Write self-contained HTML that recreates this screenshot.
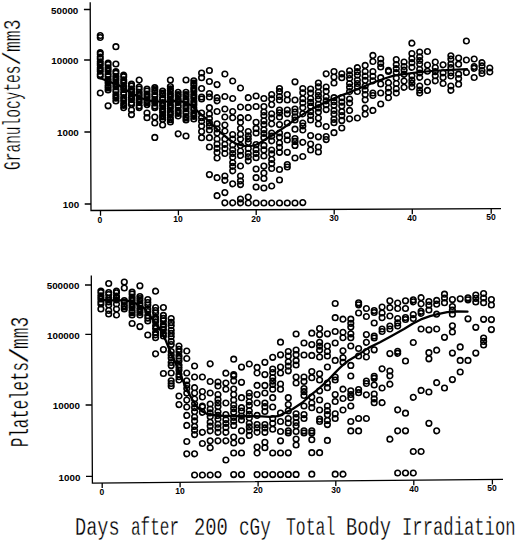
<!DOCTYPE html>
<html><head><meta charset="utf-8"><style>
html,body{margin:0;padding:0;background:#fff;width:520px;height:541px;overflow:hidden}
#c{position:relative;width:520px;height:541px}
svg{position:absolute;left:0;top:0}
.yl{position:absolute;font:bold 9.8px "Liberation Sans",sans-serif;line-height:11px;color:#000;white-space:nowrap}
.xl{position:absolute;width:30px;text-align:center;font:bold 9.8px "Liberation Sans",sans-serif;line-height:10.6px;color:#000;transform:scaleX(0.87)}
.t{position:absolute;font-family:"Liberation Mono",monospace;-webkit-text-stroke:0.3px #fff;paint-order:normal;white-space:nowrap;color:#000;transform-origin:0 0;line-height:1}
</style></head><body><div id="c">
<svg width="520" height="541" viewBox="0 0 520 541">
<path d="M90.2 2.3 L91 210.5 L501 208.6" fill="none" stroke="#000" stroke-width="1.3"/>
<path d="M91.3 275.4 L92.4 483.1 L503 479.4" fill="none" stroke="#000" stroke-width="1.3"/>
<path d="M83.9 9.5 L90.2 9.5 M84.1 60 L90.4 60 M84.4 132 L90.7 132 M84.7 204 L91.0 204 M85.0 285 L91.3 285 M85.3 334.4 L91.6 334.4 M85.6 405 L91.9 405 M86.0 476.3 L92.3 476.3 M100.5 210.5 L100.5 215.7 M178.4 210.1 L178.4 215.3 M256.2 209.7 L256.2 214.9 M334.2 209.4 L334.2 214.6 M412.3 209.0 L412.3 214.2 M491.2 208.6 L491.2 213.8 M102.2 483.0 L102.2 488.0 M180.1 482.3 L180.1 487.3 M258.1 481.6 L258.1 486.6 M335.8 480.9 L335.8 485.9 M413.8 480.2 L413.8 485.2 M492.4 479.5 L492.4 484.5" fill="none" stroke="#000" stroke-width="1.3"/>
<path d="M97.5 35.5a2.8 2.8 0 1 0 5.6 0a2.8 2.8 0 1 0 -5.6 0M97.5 37.5a2.8 2.8 0 1 0 5.6 0a2.8 2.8 0 1 0 -5.6 0M97.5 52.5a2.8 2.8 0 1 0 5.6 0a2.8 2.8 0 1 0 -5.6 0M97.5 54.0a2.8 2.8 0 1 0 5.6 0a2.8 2.8 0 1 0 -5.6 0M97.5 57.1a2.8 2.8 0 1 0 5.6 0a2.8 2.8 0 1 0 -5.6 0M97.5 58.7a2.8 2.8 0 1 0 5.6 0a2.8 2.8 0 1 0 -5.6 0M97.5 61.8a2.8 2.8 0 1 0 5.6 0a2.8 2.8 0 1 0 -5.6 0M97.5 63.4a2.8 2.8 0 1 0 5.6 0a2.8 2.8 0 1 0 -5.6 0M97.5 64.9a2.8 2.8 0 1 0 5.6 0a2.8 2.8 0 1 0 -5.6 0M97.5 68.1a2.8 2.8 0 1 0 5.6 0a2.8 2.8 0 1 0 -5.6 0M97.5 69.7a2.8 2.8 0 1 0 5.6 0a2.8 2.8 0 1 0 -5.6 0M97.5 71.2a2.8 2.8 0 1 0 5.6 0a2.8 2.8 0 1 0 -5.6 0M97.5 74.4a2.8 2.8 0 1 0 5.6 0a2.8 2.8 0 1 0 -5.6 0M97.5 76.0a2.8 2.8 0 1 0 5.6 0a2.8 2.8 0 1 0 -5.6 0M97.5 93.0a2.8 2.8 0 1 0 5.6 0a2.8 2.8 0 1 0 -5.6 0M105.3 63.0a2.8 2.8 0 1 0 5.6 0a2.8 2.8 0 1 0 -5.6 0M105.3 64.6a2.8 2.8 0 1 0 5.6 0a2.8 2.8 0 1 0 -5.6 0M105.3 67.9a2.8 2.8 0 1 0 5.6 0a2.8 2.8 0 1 0 -5.6 0M105.3 69.6a2.8 2.8 0 1 0 5.6 0a2.8 2.8 0 1 0 -5.6 0M105.3 71.3a2.8 2.8 0 1 0 5.6 0a2.8 2.8 0 1 0 -5.6 0M105.3 74.5a2.8 2.8 0 1 0 5.6 0a2.8 2.8 0 1 0 -5.6 0M105.3 76.2a2.8 2.8 0 1 0 5.6 0a2.8 2.8 0 1 0 -5.6 0M105.3 79.5a2.8 2.8 0 1 0 5.6 0a2.8 2.8 0 1 0 -5.6 0M105.3 81.2a2.8 2.8 0 1 0 5.6 0a2.8 2.8 0 1 0 -5.6 0M105.3 82.8a2.8 2.8 0 1 0 5.6 0a2.8 2.8 0 1 0 -5.6 0M105.3 86.1a2.8 2.8 0 1 0 5.6 0a2.8 2.8 0 1 0 -5.6 0M105.3 87.8a2.8 2.8 0 1 0 5.6 0a2.8 2.8 0 1 0 -5.6 0M105.3 90.0a2.8 2.8 0 1 0 5.6 0a2.8 2.8 0 1 0 -5.6 0M105.3 105.8a2.8 2.8 0 1 0 5.6 0a2.8 2.8 0 1 0 -5.6 0M113.1 46.7a2.8 2.8 0 1 0 5.6 0a2.8 2.8 0 1 0 -5.6 0M113.1 64.0a2.8 2.8 0 1 0 5.6 0a2.8 2.8 0 1 0 -5.6 0M113.1 71.5a2.8 2.8 0 1 0 5.6 0a2.8 2.8 0 1 0 -5.6 0M113.1 73.2a2.8 2.8 0 1 0 5.6 0a2.8 2.8 0 1 0 -5.6 0M113.1 76.5a2.8 2.8 0 1 0 5.6 0a2.8 2.8 0 1 0 -5.6 0M113.1 78.2a2.8 2.8 0 1 0 5.6 0a2.8 2.8 0 1 0 -5.6 0M113.1 79.9a2.8 2.8 0 1 0 5.6 0a2.8 2.8 0 1 0 -5.6 0M113.1 83.2a2.8 2.8 0 1 0 5.6 0a2.8 2.8 0 1 0 -5.6 0M113.1 84.9a2.8 2.8 0 1 0 5.6 0a2.8 2.8 0 1 0 -5.6 0M113.1 86.6a2.8 2.8 0 1 0 5.6 0a2.8 2.8 0 1 0 -5.6 0M113.1 89.9a2.8 2.8 0 1 0 5.6 0a2.8 2.8 0 1 0 -5.6 0M113.1 91.6a2.8 2.8 0 1 0 5.6 0a2.8 2.8 0 1 0 -5.6 0M113.1 94.9a2.8 2.8 0 1 0 5.6 0a2.8 2.8 0 1 0 -5.6 0M113.1 96.6a2.8 2.8 0 1 0 5.6 0a2.8 2.8 0 1 0 -5.6 0M113.1 98.2a2.8 2.8 0 1 0 5.6 0a2.8 2.8 0 1 0 -5.6 0M113.1 101.0a2.8 2.8 0 1 0 5.6 0a2.8 2.8 0 1 0 -5.6 0M120.9 75.0a2.8 2.8 0 1 0 5.6 0a2.8 2.8 0 1 0 -5.6 0M120.9 76.7a2.8 2.8 0 1 0 5.6 0a2.8 2.8 0 1 0 -5.6 0M120.9 79.9a2.8 2.8 0 1 0 5.6 0a2.8 2.8 0 1 0 -5.6 0M120.9 81.5a2.8 2.8 0 1 0 5.6 0a2.8 2.8 0 1 0 -5.6 0M120.9 83.1a2.8 2.8 0 1 0 5.6 0a2.8 2.8 0 1 0 -5.6 0M120.9 86.3a2.8 2.8 0 1 0 5.6 0a2.8 2.8 0 1 0 -5.6 0M120.9 87.9a2.8 2.8 0 1 0 5.6 0a2.8 2.8 0 1 0 -5.6 0M120.9 89.5a2.8 2.8 0 1 0 5.6 0a2.8 2.8 0 1 0 -5.6 0M120.9 92.7a2.8 2.8 0 1 0 5.6 0a2.8 2.8 0 1 0 -5.6 0M120.9 94.3a2.8 2.8 0 1 0 5.6 0a2.8 2.8 0 1 0 -5.6 0M120.9 97.5a2.8 2.8 0 1 0 5.6 0a2.8 2.8 0 1 0 -5.6 0M120.9 99.1a2.8 2.8 0 1 0 5.6 0a2.8 2.8 0 1 0 -5.6 0M120.9 100.7a2.8 2.8 0 1 0 5.6 0a2.8 2.8 0 1 0 -5.6 0M120.9 103.9a2.8 2.8 0 1 0 5.6 0a2.8 2.8 0 1 0 -5.6 0M120.9 105.5a2.8 2.8 0 1 0 5.6 0a2.8 2.8 0 1 0 -5.6 0M120.9 107.7a2.8 2.8 0 1 0 5.6 0a2.8 2.8 0 1 0 -5.6 0M128.7 84.0a2.8 2.8 0 1 0 5.6 0a2.8 2.8 0 1 0 -5.6 0M128.7 85.9a2.8 2.8 0 1 0 5.6 0a2.8 2.8 0 1 0 -5.6 0M128.7 89.2a2.8 2.8 0 1 0 5.6 0a2.8 2.8 0 1 0 -5.6 0M128.7 90.9a2.8 2.8 0 1 0 5.6 0a2.8 2.8 0 1 0 -5.6 0M128.7 92.6a2.8 2.8 0 1 0 5.6 0a2.8 2.8 0 1 0 -5.6 0M128.7 95.9a2.8 2.8 0 1 0 5.6 0a2.8 2.8 0 1 0 -5.6 0M128.7 97.6a2.8 2.8 0 1 0 5.6 0a2.8 2.8 0 1 0 -5.6 0M128.7 99.4a2.8 2.8 0 1 0 5.6 0a2.8 2.8 0 1 0 -5.6 0M128.7 102.7a2.8 2.8 0 1 0 5.6 0a2.8 2.8 0 1 0 -5.6 0M128.7 104.6a2.8 2.8 0 1 0 5.6 0a2.8 2.8 0 1 0 -5.6 0M128.7 110.0a2.8 2.8 0 1 0 5.6 0a2.8 2.8 0 1 0 -5.6 0M128.7 114.6a2.8 2.8 0 1 0 5.6 0a2.8 2.8 0 1 0 -5.6 0M136.4 80.0a2.8 2.8 0 1 0 5.6 0a2.8 2.8 0 1 0 -5.6 0M136.4 87.0a2.8 2.8 0 1 0 5.6 0a2.8 2.8 0 1 0 -5.6 0M136.4 89.0a2.8 2.8 0 1 0 5.6 0a2.8 2.8 0 1 0 -5.6 0M136.4 92.3a2.8 2.8 0 1 0 5.6 0a2.8 2.8 0 1 0 -5.6 0M136.4 94.0a2.8 2.8 0 1 0 5.6 0a2.8 2.8 0 1 0 -5.6 0M136.4 95.7a2.8 2.8 0 1 0 5.6 0a2.8 2.8 0 1 0 -5.6 0M136.4 99.1a2.8 2.8 0 1 0 5.6 0a2.8 2.8 0 1 0 -5.6 0M136.4 100.8a2.8 2.8 0 1 0 5.6 0a2.8 2.8 0 1 0 -5.6 0M136.4 102.5a2.8 2.8 0 1 0 5.6 0a2.8 2.8 0 1 0 -5.6 0M136.4 105.8a2.8 2.8 0 1 0 5.6 0a2.8 2.8 0 1 0 -5.6 0M136.4 107.7a2.8 2.8 0 1 0 5.6 0a2.8 2.8 0 1 0 -5.6 0M144.2 89.0a2.8 2.8 0 1 0 5.6 0a2.8 2.8 0 1 0 -5.6 0M144.2 91.0a2.8 2.8 0 1 0 5.6 0a2.8 2.8 0 1 0 -5.6 0M144.2 94.2a2.8 2.8 0 1 0 5.6 0a2.8 2.8 0 1 0 -5.6 0M144.2 95.9a2.8 2.8 0 1 0 5.6 0a2.8 2.8 0 1 0 -5.6 0M144.2 97.5a2.8 2.8 0 1 0 5.6 0a2.8 2.8 0 1 0 -5.6 0M144.2 100.8a2.8 2.8 0 1 0 5.6 0a2.8 2.8 0 1 0 -5.6 0M144.2 102.4a2.8 2.8 0 1 0 5.6 0a2.8 2.8 0 1 0 -5.6 0M144.2 104.6a2.8 2.8 0 1 0 5.6 0a2.8 2.8 0 1 0 -5.6 0M144.2 113.0a2.8 2.8 0 1 0 5.6 0a2.8 2.8 0 1 0 -5.6 0M144.2 117.7a2.8 2.8 0 1 0 5.6 0a2.8 2.8 0 1 0 -5.6 0M152.0 87.7a2.8 2.8 0 1 0 5.6 0a2.8 2.8 0 1 0 -5.6 0M152.0 89.7a2.8 2.8 0 1 0 5.6 0a2.8 2.8 0 1 0 -5.6 0M152.0 91.4a2.8 2.8 0 1 0 5.6 0a2.8 2.8 0 1 0 -5.6 0M152.0 94.6a2.8 2.8 0 1 0 5.6 0a2.8 2.8 0 1 0 -5.6 0M152.0 96.3a2.8 2.8 0 1 0 5.6 0a2.8 2.8 0 1 0 -5.6 0M152.0 99.5a2.8 2.8 0 1 0 5.6 0a2.8 2.8 0 1 0 -5.6 0M152.0 101.2a2.8 2.8 0 1 0 5.6 0a2.8 2.8 0 1 0 -5.6 0M152.0 102.8a2.8 2.8 0 1 0 5.6 0a2.8 2.8 0 1 0 -5.6 0M152.0 106.0a2.8 2.8 0 1 0 5.6 0a2.8 2.8 0 1 0 -5.6 0M152.0 107.7a2.8 2.8 0 1 0 5.6 0a2.8 2.8 0 1 0 -5.6 0M152.0 117.0a2.8 2.8 0 1 0 5.6 0a2.8 2.8 0 1 0 -5.6 0M152.0 123.0a2.8 2.8 0 1 0 5.6 0a2.8 2.8 0 1 0 -5.6 0M152.0 137.4a2.8 2.8 0 1 0 5.6 0a2.8 2.8 0 1 0 -5.6 0M159.8 91.0a2.8 2.8 0 1 0 5.6 0a2.8 2.8 0 1 0 -5.6 0M159.8 93.1a2.8 2.8 0 1 0 5.6 0a2.8 2.8 0 1 0 -5.6 0M159.8 94.7a2.8 2.8 0 1 0 5.6 0a2.8 2.8 0 1 0 -5.6 0M159.8 97.8a2.8 2.8 0 1 0 5.6 0a2.8 2.8 0 1 0 -5.6 0M159.8 99.4a2.8 2.8 0 1 0 5.6 0a2.8 2.8 0 1 0 -5.6 0M159.8 102.6a2.8 2.8 0 1 0 5.6 0a2.8 2.8 0 1 0 -5.6 0M159.8 104.2a2.8 2.8 0 1 0 5.6 0a2.8 2.8 0 1 0 -5.6 0M159.8 105.8a2.8 2.8 0 1 0 5.6 0a2.8 2.8 0 1 0 -5.6 0M159.8 109.0a2.8 2.8 0 1 0 5.6 0a2.8 2.8 0 1 0 -5.6 0M159.8 110.6a2.8 2.8 0 1 0 5.6 0a2.8 2.8 0 1 0 -5.6 0M159.8 112.2a2.8 2.8 0 1 0 5.6 0a2.8 2.8 0 1 0 -5.6 0M159.8 115.4a2.8 2.8 0 1 0 5.6 0a2.8 2.8 0 1 0 -5.6 0M159.8 117.0a2.8 2.8 0 1 0 5.6 0a2.8 2.8 0 1 0 -5.6 0M159.8 119.2a2.8 2.8 0 1 0 5.6 0a2.8 2.8 0 1 0 -5.6 0M159.8 125.0a2.8 2.8 0 1 0 5.6 0a2.8 2.8 0 1 0 -5.6 0M167.6 80.0a2.8 2.8 0 1 0 5.6 0a2.8 2.8 0 1 0 -5.6 0M167.6 86.6a2.8 2.8 0 1 0 5.6 0a2.8 2.8 0 1 0 -5.6 0M167.6 88.8a2.8 2.8 0 1 0 5.6 0a2.8 2.8 0 1 0 -5.6 0M167.6 90.4a2.8 2.8 0 1 0 5.6 0a2.8 2.8 0 1 0 -5.6 0M167.6 93.6a2.8 2.8 0 1 0 5.6 0a2.8 2.8 0 1 0 -5.6 0M167.6 95.3a2.8 2.8 0 1 0 5.6 0a2.8 2.8 0 1 0 -5.6 0M167.6 96.9a2.8 2.8 0 1 0 5.6 0a2.8 2.8 0 1 0 -5.6 0M167.6 100.1a2.8 2.8 0 1 0 5.6 0a2.8 2.8 0 1 0 -5.6 0M167.6 101.8a2.8 2.8 0 1 0 5.6 0a2.8 2.8 0 1 0 -5.6 0M167.6 105.0a2.8 2.8 0 1 0 5.6 0a2.8 2.8 0 1 0 -5.6 0M167.6 106.7a2.8 2.8 0 1 0 5.6 0a2.8 2.8 0 1 0 -5.6 0M167.6 108.3a2.8 2.8 0 1 0 5.6 0a2.8 2.8 0 1 0 -5.6 0M167.6 111.5a2.8 2.8 0 1 0 5.6 0a2.8 2.8 0 1 0 -5.6 0M167.6 113.2a2.8 2.8 0 1 0 5.6 0a2.8 2.8 0 1 0 -5.6 0M167.6 114.8a2.8 2.8 0 1 0 5.6 0a2.8 2.8 0 1 0 -5.6 0M167.6 118.0a2.8 2.8 0 1 0 5.6 0a2.8 2.8 0 1 0 -5.6 0M167.6 119.7a2.8 2.8 0 1 0 5.6 0a2.8 2.8 0 1 0 -5.6 0M167.6 122.0a2.8 2.8 0 1 0 5.6 0a2.8 2.8 0 1 0 -5.6 0M175.4 92.3a2.8 2.8 0 1 0 5.6 0a2.8 2.8 0 1 0 -5.6 0M175.4 94.5a2.8 2.8 0 1 0 5.6 0a2.8 2.8 0 1 0 -5.6 0M175.4 96.1a2.8 2.8 0 1 0 5.6 0a2.8 2.8 0 1 0 -5.6 0M175.4 99.2a2.8 2.8 0 1 0 5.6 0a2.8 2.8 0 1 0 -5.6 0M175.4 100.8a2.8 2.8 0 1 0 5.6 0a2.8 2.8 0 1 0 -5.6 0M175.4 102.4a2.8 2.8 0 1 0 5.6 0a2.8 2.8 0 1 0 -5.6 0M175.4 105.6a2.8 2.8 0 1 0 5.6 0a2.8 2.8 0 1 0 -5.6 0M175.4 107.1a2.8 2.8 0 1 0 5.6 0a2.8 2.8 0 1 0 -5.6 0M175.4 110.3a2.8 2.8 0 1 0 5.6 0a2.8 2.8 0 1 0 -5.6 0M175.4 111.9a2.8 2.8 0 1 0 5.6 0a2.8 2.8 0 1 0 -5.6 0M175.4 113.5a2.8 2.8 0 1 0 5.6 0a2.8 2.8 0 1 0 -5.6 0M175.4 116.0a2.8 2.8 0 1 0 5.6 0a2.8 2.8 0 1 0 -5.6 0M175.4 133.8a2.8 2.8 0 1 0 5.6 0a2.8 2.8 0 1 0 -5.6 0M183.2 80.0a2.8 2.8 0 1 0 5.6 0a2.8 2.8 0 1 0 -5.6 0M183.2 92.3a2.8 2.8 0 1 0 5.6 0a2.8 2.8 0 1 0 -5.6 0M183.2 94.5a2.8 2.8 0 1 0 5.6 0a2.8 2.8 0 1 0 -5.6 0M183.2 96.1a2.8 2.8 0 1 0 5.6 0a2.8 2.8 0 1 0 -5.6 0M183.2 99.2a2.8 2.8 0 1 0 5.6 0a2.8 2.8 0 1 0 -5.6 0M183.2 100.8a2.8 2.8 0 1 0 5.6 0a2.8 2.8 0 1 0 -5.6 0M183.2 102.3a2.8 2.8 0 1 0 5.6 0a2.8 2.8 0 1 0 -5.6 0M183.2 105.5a2.8 2.8 0 1 0 5.6 0a2.8 2.8 0 1 0 -5.6 0M183.2 107.0a2.8 2.8 0 1 0 5.6 0a2.8 2.8 0 1 0 -5.6 0M183.2 108.6a2.8 2.8 0 1 0 5.6 0a2.8 2.8 0 1 0 -5.6 0M183.2 111.7a2.8 2.8 0 1 0 5.6 0a2.8 2.8 0 1 0 -5.6 0M183.2 113.3a2.8 2.8 0 1 0 5.6 0a2.8 2.8 0 1 0 -5.6 0M183.2 116.5a2.8 2.8 0 1 0 5.6 0a2.8 2.8 0 1 0 -5.6 0M183.2 118.0a2.8 2.8 0 1 0 5.6 0a2.8 2.8 0 1 0 -5.6 0M183.2 120.0a2.8 2.8 0 1 0 5.6 0a2.8 2.8 0 1 0 -5.6 0M183.2 136.0a2.8 2.8 0 1 0 5.6 0a2.8 2.8 0 1 0 -5.6 0M191.0 80.8a2.8 2.8 0 1 0 5.6 0a2.8 2.8 0 1 0 -5.6 0M191.0 83.2a2.8 2.8 0 1 0 5.6 0a2.8 2.8 0 1 0 -5.6 0M191.0 84.9a2.8 2.8 0 1 0 5.6 0a2.8 2.8 0 1 0 -5.6 0M191.0 88.2a2.8 2.8 0 1 0 5.6 0a2.8 2.8 0 1 0 -5.6 0M191.0 89.8a2.8 2.8 0 1 0 5.6 0a2.8 2.8 0 1 0 -5.6 0M191.0 91.5a2.8 2.8 0 1 0 5.6 0a2.8 2.8 0 1 0 -5.6 0M191.0 94.8a2.8 2.8 0 1 0 5.6 0a2.8 2.8 0 1 0 -5.6 0M191.0 96.4a2.8 2.8 0 1 0 5.6 0a2.8 2.8 0 1 0 -5.6 0M191.0 98.1a2.8 2.8 0 1 0 5.6 0a2.8 2.8 0 1 0 -5.6 0M191.0 101.4a2.8 2.8 0 1 0 5.6 0a2.8 2.8 0 1 0 -5.6 0M191.0 103.0a2.8 2.8 0 1 0 5.6 0a2.8 2.8 0 1 0 -5.6 0M191.0 104.7a2.8 2.8 0 1 0 5.6 0a2.8 2.8 0 1 0 -5.6 0M191.0 108.0a2.8 2.8 0 1 0 5.6 0a2.8 2.8 0 1 0 -5.6 0M191.0 109.7a2.8 2.8 0 1 0 5.6 0a2.8 2.8 0 1 0 -5.6 0M191.0 112.9a2.8 2.8 0 1 0 5.6 0a2.8 2.8 0 1 0 -5.6 0M191.0 114.6a2.8 2.8 0 1 0 5.6 0a2.8 2.8 0 1 0 -5.6 0M191.0 116.3a2.8 2.8 0 1 0 5.6 0a2.8 2.8 0 1 0 -5.6 0M191.0 119.0a2.8 2.8 0 1 0 5.6 0a2.8 2.8 0 1 0 -5.6 0M198.8 73.0a2.8 2.8 0 1 0 5.6 0a2.8 2.8 0 1 0 -5.6 0M198.8 77.7a2.8 2.8 0 1 0 5.6 0a2.8 2.8 0 1 0 -5.6 0M198.8 88.5a2.8 2.8 0 1 0 5.6 0a2.8 2.8 0 1 0 -5.6 0M198.8 97.0a2.8 2.8 0 1 0 5.6 0a2.8 2.8 0 1 0 -5.6 0M198.8 99.0a2.8 2.8 0 1 0 5.6 0a2.8 2.8 0 1 0 -5.6 0M198.8 113.0a2.8 2.8 0 1 0 5.6 0a2.8 2.8 0 1 0 -5.6 0M198.8 117.6a2.8 2.8 0 1 0 5.6 0a2.8 2.8 0 1 0 -5.6 0M198.8 121.3a2.8 2.8 0 1 0 5.6 0a2.8 2.8 0 1 0 -5.6 0M198.8 126.0a2.8 2.8 0 1 0 5.6 0a2.8 2.8 0 1 0 -5.6 0M198.8 131.5a2.8 2.8 0 1 0 5.6 0a2.8 2.8 0 1 0 -5.6 0M198.8 137.7a2.8 2.8 0 1 0 5.6 0a2.8 2.8 0 1 0 -5.6 0M206.6 70.5a2.8 2.8 0 1 0 5.6 0a2.8 2.8 0 1 0 -5.6 0M206.6 81.5a2.8 2.8 0 1 0 5.6 0a2.8 2.8 0 1 0 -5.6 0M206.6 93.5a2.8 2.8 0 1 0 5.6 0a2.8 2.8 0 1 0 -5.6 0M206.6 97.0a2.8 2.8 0 1 0 5.6 0a2.8 2.8 0 1 0 -5.6 0M206.6 107.7a2.8 2.8 0 1 0 5.6 0a2.8 2.8 0 1 0 -5.6 0M206.6 114.0a2.8 2.8 0 1 0 5.6 0a2.8 2.8 0 1 0 -5.6 0M206.6 118.5a2.8 2.8 0 1 0 5.6 0a2.8 2.8 0 1 0 -5.6 0M206.6 122.6a2.8 2.8 0 1 0 5.6 0a2.8 2.8 0 1 0 -5.6 0M206.6 125.9a2.8 2.8 0 1 0 5.6 0a2.8 2.8 0 1 0 -5.6 0M206.6 130.0a2.8 2.8 0 1 0 5.6 0a2.8 2.8 0 1 0 -5.6 0M206.6 137.7a2.8 2.8 0 1 0 5.6 0a2.8 2.8 0 1 0 -5.6 0M206.6 147.0a2.8 2.8 0 1 0 5.6 0a2.8 2.8 0 1 0 -5.6 0M206.6 174.6a2.8 2.8 0 1 0 5.6 0a2.8 2.8 0 1 0 -5.6 0M214.3 84.6a2.8 2.8 0 1 0 5.6 0a2.8 2.8 0 1 0 -5.6 0M214.3 97.7a2.8 2.8 0 1 0 5.6 0a2.8 2.8 0 1 0 -5.6 0M214.3 100.8a2.8 2.8 0 1 0 5.6 0a2.8 2.8 0 1 0 -5.6 0M214.3 111.5a2.8 2.8 0 1 0 5.6 0a2.8 2.8 0 1 0 -5.6 0M214.3 123.8a2.8 2.8 0 1 0 5.6 0a2.8 2.8 0 1 0 -5.6 0M214.3 128.8a2.8 2.8 0 1 0 5.6 0a2.8 2.8 0 1 0 -5.6 0M214.3 133.0a2.8 2.8 0 1 0 5.6 0a2.8 2.8 0 1 0 -5.6 0M214.3 139.0a2.8 2.8 0 1 0 5.6 0a2.8 2.8 0 1 0 -5.6 0M214.3 144.1a2.8 2.8 0 1 0 5.6 0a2.8 2.8 0 1 0 -5.6 0M214.3 148.3a2.8 2.8 0 1 0 5.6 0a2.8 2.8 0 1 0 -5.6 0M214.3 152.5a2.8 2.8 0 1 0 5.6 0a2.8 2.8 0 1 0 -5.6 0M214.3 158.0a2.8 2.8 0 1 0 5.6 0a2.8 2.8 0 1 0 -5.6 0M214.3 177.7a2.8 2.8 0 1 0 5.6 0a2.8 2.8 0 1 0 -5.6 0M214.3 195.7a2.8 2.8 0 1 0 5.6 0a2.8 2.8 0 1 0 -5.6 0M222.1 74.0a2.8 2.8 0 1 0 5.6 0a2.8 2.8 0 1 0 -5.6 0M222.1 96.5a2.8 2.8 0 1 0 5.6 0a2.8 2.8 0 1 0 -5.6 0M222.1 109.0a2.8 2.8 0 1 0 5.6 0a2.8 2.8 0 1 0 -5.6 0M222.1 117.0a2.8 2.8 0 1 0 5.6 0a2.8 2.8 0 1 0 -5.6 0M222.1 125.0a2.8 2.8 0 1 0 5.6 0a2.8 2.8 0 1 0 -5.6 0M222.1 131.0a2.8 2.8 0 1 0 5.6 0a2.8 2.8 0 1 0 -5.6 0M222.1 139.0a2.8 2.8 0 1 0 5.6 0a2.8 2.8 0 1 0 -5.6 0M222.1 144.3a2.8 2.8 0 1 0 5.6 0a2.8 2.8 0 1 0 -5.6 0M222.1 148.5a2.8 2.8 0 1 0 5.6 0a2.8 2.8 0 1 0 -5.6 0M222.1 153.5a2.8 2.8 0 1 0 5.6 0a2.8 2.8 0 1 0 -5.6 0M222.1 176.0a2.8 2.8 0 1 0 5.6 0a2.8 2.8 0 1 0 -5.6 0M222.1 180.3a2.8 2.8 0 1 0 5.6 0a2.8 2.8 0 1 0 -5.6 0M222.1 192.6a2.8 2.8 0 1 0 5.6 0a2.8 2.8 0 1 0 -5.6 0M222.1 202.8a2.8 2.8 0 1 0 5.6 0a2.8 2.8 0 1 0 -5.6 0M229.9 81.0a2.8 2.8 0 1 0 5.6 0a2.8 2.8 0 1 0 -5.6 0M229.9 98.5a2.8 2.8 0 1 0 5.6 0a2.8 2.8 0 1 0 -5.6 0M229.9 111.5a2.8 2.8 0 1 0 5.6 0a2.8 2.8 0 1 0 -5.6 0M229.9 117.7a2.8 2.8 0 1 0 5.6 0a2.8 2.8 0 1 0 -5.6 0M229.9 134.6a2.8 2.8 0 1 0 5.6 0a2.8 2.8 0 1 0 -5.6 0M229.9 139.0a2.8 2.8 0 1 0 5.6 0a2.8 2.8 0 1 0 -5.6 0M229.9 145.0a2.8 2.8 0 1 0 5.6 0a2.8 2.8 0 1 0 -5.6 0M229.9 149.8a2.8 2.8 0 1 0 5.6 0a2.8 2.8 0 1 0 -5.6 0M229.9 153.5a2.8 2.8 0 1 0 5.6 0a2.8 2.8 0 1 0 -5.6 0M229.9 157.3a2.8 2.8 0 1 0 5.6 0a2.8 2.8 0 1 0 -5.6 0M229.9 162.6a2.8 2.8 0 1 0 5.6 0a2.8 2.8 0 1 0 -5.6 0M229.9 166.3a2.8 2.8 0 1 0 5.6 0a2.8 2.8 0 1 0 -5.6 0M229.9 170.8a2.8 2.8 0 1 0 5.6 0a2.8 2.8 0 1 0 -5.6 0M229.9 183.8a2.8 2.8 0 1 0 5.6 0a2.8 2.8 0 1 0 -5.6 0M229.9 202.8a2.8 2.8 0 1 0 5.6 0a2.8 2.8 0 1 0 -5.6 0M237.7 88.0a2.8 2.8 0 1 0 5.6 0a2.8 2.8 0 1 0 -5.6 0M237.7 107.0a2.8 2.8 0 1 0 5.6 0a2.8 2.8 0 1 0 -5.6 0M237.7 117.7a2.8 2.8 0 1 0 5.6 0a2.8 2.8 0 1 0 -5.6 0M237.7 122.3a2.8 2.8 0 1 0 5.6 0a2.8 2.8 0 1 0 -5.6 0M237.7 128.5a2.8 2.8 0 1 0 5.6 0a2.8 2.8 0 1 0 -5.6 0M237.7 134.3a2.8 2.8 0 1 0 5.6 0a2.8 2.8 0 1 0 -5.6 0M237.7 139.0a2.8 2.8 0 1 0 5.6 0a2.8 2.8 0 1 0 -5.6 0M237.7 145.4a2.8 2.8 0 1 0 5.6 0a2.8 2.8 0 1 0 -5.6 0M237.7 151.0a2.8 2.8 0 1 0 5.6 0a2.8 2.8 0 1 0 -5.6 0M237.7 155.4a2.8 2.8 0 1 0 5.6 0a2.8 2.8 0 1 0 -5.6 0M237.7 166.0a2.8 2.8 0 1 0 5.6 0a2.8 2.8 0 1 0 -5.6 0M237.7 176.0a2.8 2.8 0 1 0 5.6 0a2.8 2.8 0 1 0 -5.6 0M237.7 180.9a2.8 2.8 0 1 0 5.6 0a2.8 2.8 0 1 0 -5.6 0M237.7 184.6a2.8 2.8 0 1 0 5.6 0a2.8 2.8 0 1 0 -5.6 0M237.7 199.0a2.8 2.8 0 1 0 5.6 0a2.8 2.8 0 1 0 -5.6 0M237.7 202.8a2.8 2.8 0 1 0 5.6 0a2.8 2.8 0 1 0 -5.6 0M245.5 97.7a2.8 2.8 0 1 0 5.6 0a2.8 2.8 0 1 0 -5.6 0M245.5 107.4a2.8 2.8 0 1 0 5.6 0a2.8 2.8 0 1 0 -5.6 0M245.5 117.7a2.8 2.8 0 1 0 5.6 0a2.8 2.8 0 1 0 -5.6 0M245.5 131.5a2.8 2.8 0 1 0 5.6 0a2.8 2.8 0 1 0 -5.6 0M245.5 135.8a2.8 2.8 0 1 0 5.6 0a2.8 2.8 0 1 0 -5.6 0M245.5 138.8a2.8 2.8 0 1 0 5.6 0a2.8 2.8 0 1 0 -5.6 0M245.5 142.3a2.8 2.8 0 1 0 5.6 0a2.8 2.8 0 1 0 -5.6 0M245.5 148.5a2.8 2.8 0 1 0 5.6 0a2.8 2.8 0 1 0 -5.6 0M245.5 153.3a2.8 2.8 0 1 0 5.6 0a2.8 2.8 0 1 0 -5.6 0M245.5 156.8a2.8 2.8 0 1 0 5.6 0a2.8 2.8 0 1 0 -5.6 0M245.5 160.8a2.8 2.8 0 1 0 5.6 0a2.8 2.8 0 1 0 -5.6 0M245.5 197.0a2.8 2.8 0 1 0 5.6 0a2.8 2.8 0 1 0 -5.6 0M245.5 203.0a2.8 2.8 0 1 0 5.6 0a2.8 2.8 0 1 0 -5.6 0M253.3 96.0a2.8 2.8 0 1 0 5.6 0a2.8 2.8 0 1 0 -5.6 0M253.3 106.5a2.8 2.8 0 1 0 5.6 0a2.8 2.8 0 1 0 -5.6 0M253.3 122.3a2.8 2.8 0 1 0 5.6 0a2.8 2.8 0 1 0 -5.6 0M253.3 128.4a2.8 2.8 0 1 0 5.6 0a2.8 2.8 0 1 0 -5.6 0M253.3 133.0a2.8 2.8 0 1 0 5.6 0a2.8 2.8 0 1 0 -5.6 0M253.3 144.6a2.8 2.8 0 1 0 5.6 0a2.8 2.8 0 1 0 -5.6 0M253.3 149.7a2.8 2.8 0 1 0 5.6 0a2.8 2.8 0 1 0 -5.6 0M253.3 153.5a2.8 2.8 0 1 0 5.6 0a2.8 2.8 0 1 0 -5.6 0M253.3 157.7a2.8 2.8 0 1 0 5.6 0a2.8 2.8 0 1 0 -5.6 0M253.3 169.0a2.8 2.8 0 1 0 5.6 0a2.8 2.8 0 1 0 -5.6 0M253.3 177.7a2.8 2.8 0 1 0 5.6 0a2.8 2.8 0 1 0 -5.6 0M253.3 187.0a2.8 2.8 0 1 0 5.6 0a2.8 2.8 0 1 0 -5.6 0M253.3 203.0a2.8 2.8 0 1 0 5.6 0a2.8 2.8 0 1 0 -5.6 0M261.1 98.5a2.8 2.8 0 1 0 5.6 0a2.8 2.8 0 1 0 -5.6 0M261.1 106.5a2.8 2.8 0 1 0 5.6 0a2.8 2.8 0 1 0 -5.6 0M261.1 112.0a2.8 2.8 0 1 0 5.6 0a2.8 2.8 0 1 0 -5.6 0M261.1 115.5a2.8 2.8 0 1 0 5.6 0a2.8 2.8 0 1 0 -5.6 0M261.1 120.8a2.8 2.8 0 1 0 5.6 0a2.8 2.8 0 1 0 -5.6 0M261.1 124.5a2.8 2.8 0 1 0 5.6 0a2.8 2.8 0 1 0 -5.6 0M261.1 129.8a2.8 2.8 0 1 0 5.6 0a2.8 2.8 0 1 0 -5.6 0M261.1 133.5a2.8 2.8 0 1 0 5.6 0a2.8 2.8 0 1 0 -5.6 0M261.1 137.7a2.8 2.8 0 1 0 5.6 0a2.8 2.8 0 1 0 -5.6 0M261.1 145.4a2.8 2.8 0 1 0 5.6 0a2.8 2.8 0 1 0 -5.6 0M261.1 149.9a2.8 2.8 0 1 0 5.6 0a2.8 2.8 0 1 0 -5.6 0M261.1 156.0a2.8 2.8 0 1 0 5.6 0a2.8 2.8 0 1 0 -5.6 0M261.1 166.0a2.8 2.8 0 1 0 5.6 0a2.8 2.8 0 1 0 -5.6 0M261.1 173.0a2.8 2.8 0 1 0 5.6 0a2.8 2.8 0 1 0 -5.6 0M261.1 178.5a2.8 2.8 0 1 0 5.6 0a2.8 2.8 0 1 0 -5.6 0M261.1 188.0a2.8 2.8 0 1 0 5.6 0a2.8 2.8 0 1 0 -5.6 0M261.1 203.0a2.8 2.8 0 1 0 5.6 0a2.8 2.8 0 1 0 -5.6 0M268.9 94.6a2.8 2.8 0 1 0 5.6 0a2.8 2.8 0 1 0 -5.6 0M268.9 98.9a2.8 2.8 0 1 0 5.6 0a2.8 2.8 0 1 0 -5.6 0M268.9 104.6a2.8 2.8 0 1 0 5.6 0a2.8 2.8 0 1 0 -5.6 0M268.9 113.8a2.8 2.8 0 1 0 5.6 0a2.8 2.8 0 1 0 -5.6 0M268.9 118.1a2.8 2.8 0 1 0 5.6 0a2.8 2.8 0 1 0 -5.6 0M268.9 123.8a2.8 2.8 0 1 0 5.6 0a2.8 2.8 0 1 0 -5.6 0M268.9 133.0a2.8 2.8 0 1 0 5.6 0a2.8 2.8 0 1 0 -5.6 0M268.9 136.2a2.8 2.8 0 1 0 5.6 0a2.8 2.8 0 1 0 -5.6 0M268.9 140.8a2.8 2.8 0 1 0 5.6 0a2.8 2.8 0 1 0 -5.6 0M268.9 150.0a2.8 2.8 0 1 0 5.6 0a2.8 2.8 0 1 0 -5.6 0M268.9 153.9a2.8 2.8 0 1 0 5.6 0a2.8 2.8 0 1 0 -5.6 0M268.9 159.5a2.8 2.8 0 1 0 5.6 0a2.8 2.8 0 1 0 -5.6 0M268.9 163.6a2.8 2.8 0 1 0 5.6 0a2.8 2.8 0 1 0 -5.6 0M268.9 168.5a2.8 2.8 0 1 0 5.6 0a2.8 2.8 0 1 0 -5.6 0M268.9 186.0a2.8 2.8 0 1 0 5.6 0a2.8 2.8 0 1 0 -5.6 0M268.9 203.0a2.8 2.8 0 1 0 5.6 0a2.8 2.8 0 1 0 -5.6 0M276.7 88.5a2.8 2.8 0 1 0 5.6 0a2.8 2.8 0 1 0 -5.6 0M276.7 91.7a2.8 2.8 0 1 0 5.6 0a2.8 2.8 0 1 0 -5.6 0M276.7 96.5a2.8 2.8 0 1 0 5.6 0a2.8 2.8 0 1 0 -5.6 0M276.7 100.0a2.8 2.8 0 1 0 5.6 0a2.8 2.8 0 1 0 -5.6 0M276.7 110.0a2.8 2.8 0 1 0 5.6 0a2.8 2.8 0 1 0 -5.6 0M276.7 112.8a2.8 2.8 0 1 0 5.6 0a2.8 2.8 0 1 0 -5.6 0M276.7 117.0a2.8 2.8 0 1 0 5.6 0a2.8 2.8 0 1 0 -5.6 0M276.7 124.6a2.8 2.8 0 1 0 5.6 0a2.8 2.8 0 1 0 -5.6 0M276.7 133.0a2.8 2.8 0 1 0 5.6 0a2.8 2.8 0 1 0 -5.6 0M276.7 137.2a2.8 2.8 0 1 0 5.6 0a2.8 2.8 0 1 0 -5.6 0M276.7 143.0a2.8 2.8 0 1 0 5.6 0a2.8 2.8 0 1 0 -5.6 0M276.7 147.3a2.8 2.8 0 1 0 5.6 0a2.8 2.8 0 1 0 -5.6 0M276.7 152.3a2.8 2.8 0 1 0 5.6 0a2.8 2.8 0 1 0 -5.6 0M276.7 169.5a2.8 2.8 0 1 0 5.6 0a2.8 2.8 0 1 0 -5.6 0M276.7 180.0a2.8 2.8 0 1 0 5.6 0a2.8 2.8 0 1 0 -5.6 0M276.7 203.0a2.8 2.8 0 1 0 5.6 0a2.8 2.8 0 1 0 -5.6 0M284.5 94.6a2.8 2.8 0 1 0 5.6 0a2.8 2.8 0 1 0 -5.6 0M284.5 100.0a2.8 2.8 0 1 0 5.6 0a2.8 2.8 0 1 0 -5.6 0M284.5 110.0a2.8 2.8 0 1 0 5.6 0a2.8 2.8 0 1 0 -5.6 0M284.5 113.8a2.8 2.8 0 1 0 5.6 0a2.8 2.8 0 1 0 -5.6 0M284.5 123.0a2.8 2.8 0 1 0 5.6 0a2.8 2.8 0 1 0 -5.6 0M284.5 135.4a2.8 2.8 0 1 0 5.6 0a2.8 2.8 0 1 0 -5.6 0M284.5 140.0a2.8 2.8 0 1 0 5.6 0a2.8 2.8 0 1 0 -5.6 0M284.5 152.3a2.8 2.8 0 1 0 5.6 0a2.8 2.8 0 1 0 -5.6 0M284.5 164.5a2.8 2.8 0 1 0 5.6 0a2.8 2.8 0 1 0 -5.6 0M284.5 167.0a2.8 2.8 0 1 0 5.6 0a2.8 2.8 0 1 0 -5.6 0M284.5 203.0a2.8 2.8 0 1 0 5.6 0a2.8 2.8 0 1 0 -5.6 0M292.2 81.8a2.8 2.8 0 1 0 5.6 0a2.8 2.8 0 1 0 -5.6 0M292.2 100.0a2.8 2.8 0 1 0 5.6 0a2.8 2.8 0 1 0 -5.6 0M292.2 109.0a2.8 2.8 0 1 0 5.6 0a2.8 2.8 0 1 0 -5.6 0M292.2 112.1a2.8 2.8 0 1 0 5.6 0a2.8 2.8 0 1 0 -5.6 0M292.2 116.8a2.8 2.8 0 1 0 5.6 0a2.8 2.8 0 1 0 -5.6 0M292.2 120.0a2.8 2.8 0 1 0 5.6 0a2.8 2.8 0 1 0 -5.6 0M292.2 129.2a2.8 2.8 0 1 0 5.6 0a2.8 2.8 0 1 0 -5.6 0M292.2 138.5a2.8 2.8 0 1 0 5.6 0a2.8 2.8 0 1 0 -5.6 0M292.2 141.4a2.8 2.8 0 1 0 5.6 0a2.8 2.8 0 1 0 -5.6 0M292.2 145.4a2.8 2.8 0 1 0 5.6 0a2.8 2.8 0 1 0 -5.6 0M292.2 158.0a2.8 2.8 0 1 0 5.6 0a2.8 2.8 0 1 0 -5.6 0M292.2 203.0a2.8 2.8 0 1 0 5.6 0a2.8 2.8 0 1 0 -5.6 0M300.0 88.5a2.8 2.8 0 1 0 5.6 0a2.8 2.8 0 1 0 -5.6 0M300.0 92.8a2.8 2.8 0 1 0 5.6 0a2.8 2.8 0 1 0 -5.6 0M300.0 98.7a2.8 2.8 0 1 0 5.6 0a2.8 2.8 0 1 0 -5.6 0M300.0 102.9a2.8 2.8 0 1 0 5.6 0a2.8 2.8 0 1 0 -5.6 0M300.0 107.7a2.8 2.8 0 1 0 5.6 0a2.8 2.8 0 1 0 -5.6 0M300.0 113.8a2.8 2.8 0 1 0 5.6 0a2.8 2.8 0 1 0 -5.6 0M300.0 123.0a2.8 2.8 0 1 0 5.6 0a2.8 2.8 0 1 0 -5.6 0M300.0 126.0a2.8 2.8 0 1 0 5.6 0a2.8 2.8 0 1 0 -5.6 0M300.0 130.0a2.8 2.8 0 1 0 5.6 0a2.8 2.8 0 1 0 -5.6 0M300.0 142.3a2.8 2.8 0 1 0 5.6 0a2.8 2.8 0 1 0 -5.6 0M300.0 156.5a2.8 2.8 0 1 0 5.6 0a2.8 2.8 0 1 0 -5.6 0M300.0 202.6a2.8 2.8 0 1 0 5.6 0a2.8 2.8 0 1 0 -5.6 0M307.8 89.0a2.8 2.8 0 1 0 5.6 0a2.8 2.8 0 1 0 -5.6 0M307.8 93.1a2.8 2.8 0 1 0 5.6 0a2.8 2.8 0 1 0 -5.6 0M307.8 98.5a2.8 2.8 0 1 0 5.6 0a2.8 2.8 0 1 0 -5.6 0M307.8 102.4a2.8 2.8 0 1 0 5.6 0a2.8 2.8 0 1 0 -5.6 0M307.8 106.2a2.8 2.8 0 1 0 5.6 0a2.8 2.8 0 1 0 -5.6 0M307.8 111.7a2.8 2.8 0 1 0 5.6 0a2.8 2.8 0 1 0 -5.6 0M307.8 115.5a2.8 2.8 0 1 0 5.6 0a2.8 2.8 0 1 0 -5.6 0M307.8 120.0a2.8 2.8 0 1 0 5.6 0a2.8 2.8 0 1 0 -5.6 0M307.8 135.6a2.8 2.8 0 1 0 5.6 0a2.8 2.8 0 1 0 -5.6 0M307.8 144.0a2.8 2.8 0 1 0 5.6 0a2.8 2.8 0 1 0 -5.6 0M307.8 150.0a2.8 2.8 0 1 0 5.6 0a2.8 2.8 0 1 0 -5.6 0M315.6 83.0a2.8 2.8 0 1 0 5.6 0a2.8 2.8 0 1 0 -5.6 0M315.6 86.8a2.8 2.8 0 1 0 5.6 0a2.8 2.8 0 1 0 -5.6 0M315.6 92.0a2.8 2.8 0 1 0 5.6 0a2.8 2.8 0 1 0 -5.6 0M315.6 95.6a2.8 2.8 0 1 0 5.6 0a2.8 2.8 0 1 0 -5.6 0M315.6 99.1a2.8 2.8 0 1 0 5.6 0a2.8 2.8 0 1 0 -5.6 0M315.6 104.3a2.8 2.8 0 1 0 5.6 0a2.8 2.8 0 1 0 -5.6 0M315.6 107.9a2.8 2.8 0 1 0 5.6 0a2.8 2.8 0 1 0 -5.6 0M315.6 112.0a2.8 2.8 0 1 0 5.6 0a2.8 2.8 0 1 0 -5.6 0M315.6 118.0a2.8 2.8 0 1 0 5.6 0a2.8 2.8 0 1 0 -5.6 0M315.6 124.0a2.8 2.8 0 1 0 5.6 0a2.8 2.8 0 1 0 -5.6 0M315.6 136.8a2.8 2.8 0 1 0 5.6 0a2.8 2.8 0 1 0 -5.6 0M315.6 147.0a2.8 2.8 0 1 0 5.6 0a2.8 2.8 0 1 0 -5.6 0M315.6 152.0a2.8 2.8 0 1 0 5.6 0a2.8 2.8 0 1 0 -5.6 0M323.4 73.8a2.8 2.8 0 1 0 5.6 0a2.8 2.8 0 1 0 -5.6 0M323.4 87.0a2.8 2.8 0 1 0 5.6 0a2.8 2.8 0 1 0 -5.6 0M323.4 91.3a2.8 2.8 0 1 0 5.6 0a2.8 2.8 0 1 0 -5.6 0M323.4 96.8a2.8 2.8 0 1 0 5.6 0a2.8 2.8 0 1 0 -5.6 0M323.4 100.8a2.8 2.8 0 1 0 5.6 0a2.8 2.8 0 1 0 -5.6 0M323.4 104.7a2.8 2.8 0 1 0 5.6 0a2.8 2.8 0 1 0 -5.6 0M323.4 109.6a2.8 2.8 0 1 0 5.6 0a2.8 2.8 0 1 0 -5.6 0M323.4 126.5a2.8 2.8 0 1 0 5.6 0a2.8 2.8 0 1 0 -5.6 0M323.4 136.5a2.8 2.8 0 1 0 5.6 0a2.8 2.8 0 1 0 -5.6 0M323.4 139.6a2.8 2.8 0 1 0 5.6 0a2.8 2.8 0 1 0 -5.6 0M331.2 71.5a2.8 2.8 0 1 0 5.6 0a2.8 2.8 0 1 0 -5.6 0M331.2 77.0a2.8 2.8 0 1 0 5.6 0a2.8 2.8 0 1 0 -5.6 0M331.2 83.0a2.8 2.8 0 1 0 5.6 0a2.8 2.8 0 1 0 -5.6 0M331.2 97.7a2.8 2.8 0 1 0 5.6 0a2.8 2.8 0 1 0 -5.6 0M331.2 101.7a2.8 2.8 0 1 0 5.6 0a2.8 2.8 0 1 0 -5.6 0M331.2 105.3a2.8 2.8 0 1 0 5.6 0a2.8 2.8 0 1 0 -5.6 0M331.2 110.5a2.8 2.8 0 1 0 5.6 0a2.8 2.8 0 1 0 -5.6 0M331.2 114.1a2.8 2.8 0 1 0 5.6 0a2.8 2.8 0 1 0 -5.6 0M331.2 119.3a2.8 2.8 0 1 0 5.6 0a2.8 2.8 0 1 0 -5.6 0M331.2 122.7a2.8 2.8 0 1 0 5.6 0a2.8 2.8 0 1 0 -5.6 0M331.2 132.7a2.8 2.8 0 1 0 5.6 0a2.8 2.8 0 1 0 -5.6 0M339.0 73.8a2.8 2.8 0 1 0 5.6 0a2.8 2.8 0 1 0 -5.6 0M339.0 77.7a2.8 2.8 0 1 0 5.6 0a2.8 2.8 0 1 0 -5.6 0M339.0 97.7a2.8 2.8 0 1 0 5.6 0a2.8 2.8 0 1 0 -5.6 0M339.0 102.1a2.8 2.8 0 1 0 5.6 0a2.8 2.8 0 1 0 -5.6 0M339.0 106.1a2.8 2.8 0 1 0 5.6 0a2.8 2.8 0 1 0 -5.6 0M339.0 111.7a2.8 2.8 0 1 0 5.6 0a2.8 2.8 0 1 0 -5.6 0M339.0 115.6a2.8 2.8 0 1 0 5.6 0a2.8 2.8 0 1 0 -5.6 0M339.0 120.4a2.8 2.8 0 1 0 5.6 0a2.8 2.8 0 1 0 -5.6 0M339.0 128.0a2.8 2.8 0 1 0 5.6 0a2.8 2.8 0 1 0 -5.6 0M346.8 70.8a2.8 2.8 0 1 0 5.6 0a2.8 2.8 0 1 0 -5.6 0M346.8 74.9a2.8 2.8 0 1 0 5.6 0a2.8 2.8 0 1 0 -5.6 0M346.8 78.5a2.8 2.8 0 1 0 5.6 0a2.8 2.8 0 1 0 -5.6 0M346.8 83.6a2.8 2.8 0 1 0 5.6 0a2.8 2.8 0 1 0 -5.6 0M346.8 87.2a2.8 2.8 0 1 0 5.6 0a2.8 2.8 0 1 0 -5.6 0M346.8 91.5a2.8 2.8 0 1 0 5.6 0a2.8 2.8 0 1 0 -5.6 0M346.8 99.0a2.8 2.8 0 1 0 5.6 0a2.8 2.8 0 1 0 -5.6 0M346.8 103.0a2.8 2.8 0 1 0 5.6 0a2.8 2.8 0 1 0 -5.6 0M346.8 110.4a2.8 2.8 0 1 0 5.6 0a2.8 2.8 0 1 0 -5.6 0M346.8 118.8a2.8 2.8 0 1 0 5.6 0a2.8 2.8 0 1 0 -5.6 0M354.6 67.7a2.8 2.8 0 1 0 5.6 0a2.8 2.8 0 1 0 -5.6 0M354.6 71.7a2.8 2.8 0 1 0 5.6 0a2.8 2.8 0 1 0 -5.6 0M354.6 75.1a2.8 2.8 0 1 0 5.6 0a2.8 2.8 0 1 0 -5.6 0M354.6 80.1a2.8 2.8 0 1 0 5.6 0a2.8 2.8 0 1 0 -5.6 0M354.6 83.5a2.8 2.8 0 1 0 5.6 0a2.8 2.8 0 1 0 -5.6 0M354.6 86.9a2.8 2.8 0 1 0 5.6 0a2.8 2.8 0 1 0 -5.6 0M354.6 91.5a2.8 2.8 0 1 0 5.6 0a2.8 2.8 0 1 0 -5.6 0M354.6 118.0a2.8 2.8 0 1 0 5.6 0a2.8 2.8 0 1 0 -5.6 0M362.4 65.4a2.8 2.8 0 1 0 5.6 0a2.8 2.8 0 1 0 -5.6 0M362.4 71.5a2.8 2.8 0 1 0 5.6 0a2.8 2.8 0 1 0 -5.6 0M362.4 76.2a2.8 2.8 0 1 0 5.6 0a2.8 2.8 0 1 0 -5.6 0M362.4 80.3a2.8 2.8 0 1 0 5.6 0a2.8 2.8 0 1 0 -5.6 0M362.4 85.9a2.8 2.8 0 1 0 5.6 0a2.8 2.8 0 1 0 -5.6 0M362.4 90.0a2.8 2.8 0 1 0 5.6 0a2.8 2.8 0 1 0 -5.6 0M362.4 94.6a2.8 2.8 0 1 0 5.6 0a2.8 2.8 0 1 0 -5.6 0M362.4 99.8a2.8 2.8 0 1 0 5.6 0a2.8 2.8 0 1 0 -5.6 0M362.4 108.2a2.8 2.8 0 1 0 5.6 0a2.8 2.8 0 1 0 -5.6 0M362.4 114.2a2.8 2.8 0 1 0 5.6 0a2.8 2.8 0 1 0 -5.6 0M370.1 55.4a2.8 2.8 0 1 0 5.6 0a2.8 2.8 0 1 0 -5.6 0M370.1 61.5a2.8 2.8 0 1 0 5.6 0a2.8 2.8 0 1 0 -5.6 0M370.1 71.5a2.8 2.8 0 1 0 5.6 0a2.8 2.8 0 1 0 -5.6 0M370.1 76.3a2.8 2.8 0 1 0 5.6 0a2.8 2.8 0 1 0 -5.6 0M370.1 80.8a2.8 2.8 0 1 0 5.6 0a2.8 2.8 0 1 0 -5.6 0M370.1 93.0a2.8 2.8 0 1 0 5.6 0a2.8 2.8 0 1 0 -5.6 0M370.1 95.5a2.8 2.8 0 1 0 5.6 0a2.8 2.8 0 1 0 -5.6 0M370.1 110.4a2.8 2.8 0 1 0 5.6 0a2.8 2.8 0 1 0 -5.6 0M377.9 59.0a2.8 2.8 0 1 0 5.6 0a2.8 2.8 0 1 0 -5.6 0M377.9 63.3a2.8 2.8 0 1 0 5.6 0a2.8 2.8 0 1 0 -5.6 0M377.9 67.0a2.8 2.8 0 1 0 5.6 0a2.8 2.8 0 1 0 -5.6 0M377.9 77.7a2.8 2.8 0 1 0 5.6 0a2.8 2.8 0 1 0 -5.6 0M377.9 84.0a2.8 2.8 0 1 0 5.6 0a2.8 2.8 0 1 0 -5.6 0M377.9 93.0a2.8 2.8 0 1 0 5.6 0a2.8 2.8 0 1 0 -5.6 0M377.9 104.0a2.8 2.8 0 1 0 5.6 0a2.8 2.8 0 1 0 -5.6 0M385.7 70.4a2.8 2.8 0 1 0 5.6 0a2.8 2.8 0 1 0 -5.6 0M385.7 71.5a2.8 2.8 0 1 0 5.6 0a2.8 2.8 0 1 0 -5.6 0M385.7 82.7a2.8 2.8 0 1 0 5.6 0a2.8 2.8 0 1 0 -5.6 0M385.7 88.0a2.8 2.8 0 1 0 5.6 0a2.8 2.8 0 1 0 -5.6 0M385.7 92.4a2.8 2.8 0 1 0 5.6 0a2.8 2.8 0 1 0 -5.6 0M385.7 97.7a2.8 2.8 0 1 0 5.6 0a2.8 2.8 0 1 0 -5.6 0M393.5 59.6a2.8 2.8 0 1 0 5.6 0a2.8 2.8 0 1 0 -5.6 0M393.5 64.6a2.8 2.8 0 1 0 5.6 0a2.8 2.8 0 1 0 -5.6 0M393.5 68.6a2.8 2.8 0 1 0 5.6 0a2.8 2.8 0 1 0 -5.6 0M393.5 72.6a2.8 2.8 0 1 0 5.6 0a2.8 2.8 0 1 0 -5.6 0M393.5 78.0a2.8 2.8 0 1 0 5.6 0a2.8 2.8 0 1 0 -5.6 0M393.5 83.5a2.8 2.8 0 1 0 5.6 0a2.8 2.8 0 1 0 -5.6 0M393.5 88.7a2.8 2.8 0 1 0 5.6 0a2.8 2.8 0 1 0 -5.6 0M393.5 93.0a2.8 2.8 0 1 0 5.6 0a2.8 2.8 0 1 0 -5.6 0M401.3 62.0a2.8 2.8 0 1 0 5.6 0a2.8 2.8 0 1 0 -5.6 0M401.3 66.5a2.8 2.8 0 1 0 5.6 0a2.8 2.8 0 1 0 -5.6 0M401.3 70.0a2.8 2.8 0 1 0 5.6 0a2.8 2.8 0 1 0 -5.6 0M401.3 74.2a2.8 2.8 0 1 0 5.6 0a2.8 2.8 0 1 0 -5.6 0M401.3 81.0a2.8 2.8 0 1 0 5.6 0a2.8 2.8 0 1 0 -5.6 0M401.3 87.3a2.8 2.8 0 1 0 5.6 0a2.8 2.8 0 1 0 -5.6 0M409.1 43.2a2.8 2.8 0 1 0 5.6 0a2.8 2.8 0 1 0 -5.6 0M409.1 53.5a2.8 2.8 0 1 0 5.6 0a2.8 2.8 0 1 0 -5.6 0M409.1 58.6a2.8 2.8 0 1 0 5.6 0a2.8 2.8 0 1 0 -5.6 0M409.1 62.7a2.8 2.8 0 1 0 5.6 0a2.8 2.8 0 1 0 -5.6 0M409.1 67.3a2.8 2.8 0 1 0 5.6 0a2.8 2.8 0 1 0 -5.6 0M409.1 75.8a2.8 2.8 0 1 0 5.6 0a2.8 2.8 0 1 0 -5.6 0M409.1 80.1a2.8 2.8 0 1 0 5.6 0a2.8 2.8 0 1 0 -5.6 0M409.1 83.2a2.8 2.8 0 1 0 5.6 0a2.8 2.8 0 1 0 -5.6 0M409.1 87.0a2.8 2.8 0 1 0 5.6 0a2.8 2.8 0 1 0 -5.6 0M416.9 52.0a2.8 2.8 0 1 0 5.6 0a2.8 2.8 0 1 0 -5.6 0M416.9 56.8a2.8 2.8 0 1 0 5.6 0a2.8 2.8 0 1 0 -5.6 0M416.9 60.5a2.8 2.8 0 1 0 5.6 0a2.8 2.8 0 1 0 -5.6 0M416.9 64.1a2.8 2.8 0 1 0 5.6 0a2.8 2.8 0 1 0 -5.6 0M416.9 69.3a2.8 2.8 0 1 0 5.6 0a2.8 2.8 0 1 0 -5.6 0M416.9 73.0a2.8 2.8 0 1 0 5.6 0a2.8 2.8 0 1 0 -5.6 0M416.9 77.3a2.8 2.8 0 1 0 5.6 0a2.8 2.8 0 1 0 -5.6 0M416.9 86.0a2.8 2.8 0 1 0 5.6 0a2.8 2.8 0 1 0 -5.6 0M416.9 90.1a2.8 2.8 0 1 0 5.6 0a2.8 2.8 0 1 0 -5.6 0M416.9 93.0a2.8 2.8 0 1 0 5.6 0a2.8 2.8 0 1 0 -5.6 0M424.7 51.5a2.8 2.8 0 1 0 5.6 0a2.8 2.8 0 1 0 -5.6 0M424.7 65.0a2.8 2.8 0 1 0 5.6 0a2.8 2.8 0 1 0 -5.6 0M424.7 71.2a2.8 2.8 0 1 0 5.6 0a2.8 2.8 0 1 0 -5.6 0M424.7 82.0a2.8 2.8 0 1 0 5.6 0a2.8 2.8 0 1 0 -5.6 0M424.7 90.4a2.8 2.8 0 1 0 5.6 0a2.8 2.8 0 1 0 -5.6 0M432.5 62.0a2.8 2.8 0 1 0 5.6 0a2.8 2.8 0 1 0 -5.6 0M432.5 67.5a2.8 2.8 0 1 0 5.6 0a2.8 2.8 0 1 0 -5.6 0M432.5 71.6a2.8 2.8 0 1 0 5.6 0a2.8 2.8 0 1 0 -5.6 0M432.5 75.7a2.8 2.8 0 1 0 5.6 0a2.8 2.8 0 1 0 -5.6 0M432.5 80.8a2.8 2.8 0 1 0 5.6 0a2.8 2.8 0 1 0 -5.6 0M440.3 64.8a2.8 2.8 0 1 0 5.6 0a2.8 2.8 0 1 0 -5.6 0M440.3 72.8a2.8 2.8 0 1 0 5.6 0a2.8 2.8 0 1 0 -5.6 0M440.3 77.4a2.8 2.8 0 1 0 5.6 0a2.8 2.8 0 1 0 -5.6 0M440.3 83.5a2.8 2.8 0 1 0 5.6 0a2.8 2.8 0 1 0 -5.6 0M448.1 55.8a2.8 2.8 0 1 0 5.6 0a2.8 2.8 0 1 0 -5.6 0M448.1 59.1a2.8 2.8 0 1 0 5.6 0a2.8 2.8 0 1 0 -5.6 0M448.1 64.2a2.8 2.8 0 1 0 5.6 0a2.8 2.8 0 1 0 -5.6 0M448.1 67.7a2.8 2.8 0 1 0 5.6 0a2.8 2.8 0 1 0 -5.6 0M448.1 72.7a2.8 2.8 0 1 0 5.6 0a2.8 2.8 0 1 0 -5.6 0M448.1 76.0a2.8 2.8 0 1 0 5.6 0a2.8 2.8 0 1 0 -5.6 0M448.1 86.0a2.8 2.8 0 1 0 5.6 0a2.8 2.8 0 1 0 -5.6 0M448.1 90.3a2.8 2.8 0 1 0 5.6 0a2.8 2.8 0 1 0 -5.6 0M455.8 58.0a2.8 2.8 0 1 0 5.6 0a2.8 2.8 0 1 0 -5.6 0M455.8 64.2a2.8 2.8 0 1 0 5.6 0a2.8 2.8 0 1 0 -5.6 0M455.8 74.2a2.8 2.8 0 1 0 5.6 0a2.8 2.8 0 1 0 -5.6 0M455.8 78.6a2.8 2.8 0 1 0 5.6 0a2.8 2.8 0 1 0 -5.6 0M455.8 84.2a2.8 2.8 0 1 0 5.6 0a2.8 2.8 0 1 0 -5.6 0M463.6 41.0a2.8 2.8 0 1 0 5.6 0a2.8 2.8 0 1 0 -5.6 0M463.6 60.0a2.8 2.8 0 1 0 5.6 0a2.8 2.8 0 1 0 -5.6 0M463.6 72.4a2.8 2.8 0 1 0 5.6 0a2.8 2.8 0 1 0 -5.6 0M471.4 59.0a2.8 2.8 0 1 0 5.6 0a2.8 2.8 0 1 0 -5.6 0M471.4 66.5a2.8 2.8 0 1 0 5.6 0a2.8 2.8 0 1 0 -5.6 0M471.4 68.3a2.8 2.8 0 1 0 5.6 0a2.8 2.8 0 1 0 -5.6 0M471.4 77.5a2.8 2.8 0 1 0 5.6 0a2.8 2.8 0 1 0 -5.6 0M479.2 62.7a2.8 2.8 0 1 0 5.6 0a2.8 2.8 0 1 0 -5.6 0M479.2 65.9a2.8 2.8 0 1 0 5.6 0a2.8 2.8 0 1 0 -5.6 0M479.2 70.5a2.8 2.8 0 1 0 5.6 0a2.8 2.8 0 1 0 -5.6 0M479.2 73.5a2.8 2.8 0 1 0 5.6 0a2.8 2.8 0 1 0 -5.6 0M487.0 68.0a2.8 2.8 0 1 0 5.6 0a2.8 2.8 0 1 0 -5.6 0M487.0 72.0a2.8 2.8 0 1 0 5.6 0a2.8 2.8 0 1 0 -5.6 0" fill="none" stroke="#000" stroke-width="1.6"/>
<path d="M98.1 291.0a2.8 2.8 0 1 0 5.6 0a2.8 2.8 0 1 0 -5.6 0M98.1 292.6a2.8 2.8 0 1 0 5.6 0a2.8 2.8 0 1 0 -5.6 0M98.1 295.8a2.8 2.8 0 1 0 5.6 0a2.8 2.8 0 1 0 -5.6 0M98.1 297.4a2.8 2.8 0 1 0 5.6 0a2.8 2.8 0 1 0 -5.6 0M98.1 299.0a2.8 2.8 0 1 0 5.6 0a2.8 2.8 0 1 0 -5.6 0M98.1 302.2a2.8 2.8 0 1 0 5.6 0a2.8 2.8 0 1 0 -5.6 0M98.1 304.0a2.8 2.8 0 1 0 5.6 0a2.8 2.8 0 1 0 -5.6 0M98.1 309.0a2.8 2.8 0 1 0 5.6 0a2.8 2.8 0 1 0 -5.6 0M105.9 283.5a2.8 2.8 0 1 0 5.6 0a2.8 2.8 0 1 0 -5.6 0M105.9 292.5a2.8 2.8 0 1 0 5.6 0a2.8 2.8 0 1 0 -5.6 0M105.9 294.5a2.8 2.8 0 1 0 5.6 0a2.8 2.8 0 1 0 -5.6 0M105.9 298.1a2.8 2.8 0 1 0 5.6 0a2.8 2.8 0 1 0 -5.6 0M105.9 300.0a2.8 2.8 0 1 0 5.6 0a2.8 2.8 0 1 0 -5.6 0M105.9 301.9a2.8 2.8 0 1 0 5.6 0a2.8 2.8 0 1 0 -5.6 0M105.9 305.0a2.8 2.8 0 1 0 5.6 0a2.8 2.8 0 1 0 -5.6 0M105.9 310.5a2.8 2.8 0 1 0 5.6 0a2.8 2.8 0 1 0 -5.6 0M105.9 314.0a2.8 2.8 0 1 0 5.6 0a2.8 2.8 0 1 0 -5.6 0M113.7 291.0a2.8 2.8 0 1 0 5.6 0a2.8 2.8 0 1 0 -5.6 0M113.7 292.8a2.8 2.8 0 1 0 5.6 0a2.8 2.8 0 1 0 -5.6 0M113.7 296.1a2.8 2.8 0 1 0 5.6 0a2.8 2.8 0 1 0 -5.6 0M113.7 297.8a2.8 2.8 0 1 0 5.6 0a2.8 2.8 0 1 0 -5.6 0M113.7 300.0a2.8 2.8 0 1 0 5.6 0a2.8 2.8 0 1 0 -5.6 0M113.7 304.0a2.8 2.8 0 1 0 5.6 0a2.8 2.8 0 1 0 -5.6 0M113.7 309.0a2.8 2.8 0 1 0 5.6 0a2.8 2.8 0 1 0 -5.6 0M113.7 315.0a2.8 2.8 0 1 0 5.6 0a2.8 2.8 0 1 0 -5.6 0M121.5 282.0a2.8 2.8 0 1 0 5.6 0a2.8 2.8 0 1 0 -5.6 0M121.5 288.0a2.8 2.8 0 1 0 5.6 0a2.8 2.8 0 1 0 -5.6 0M121.5 300.6a2.8 2.8 0 1 0 5.6 0a2.8 2.8 0 1 0 -5.6 0M121.5 302.4a2.8 2.8 0 1 0 5.6 0a2.8 2.8 0 1 0 -5.6 0M121.5 305.5a2.8 2.8 0 1 0 5.6 0a2.8 2.8 0 1 0 -5.6 0M121.5 307.0a2.8 2.8 0 1 0 5.6 0a2.8 2.8 0 1 0 -5.6 0M121.5 309.0a2.8 2.8 0 1 0 5.6 0a2.8 2.8 0 1 0 -5.6 0M129.3 292.0a2.8 2.8 0 1 0 5.6 0a2.8 2.8 0 1 0 -5.6 0M129.3 294.0a2.8 2.8 0 1 0 5.6 0a2.8 2.8 0 1 0 -5.6 0M129.3 297.4a2.8 2.8 0 1 0 5.6 0a2.8 2.8 0 1 0 -5.6 0M129.3 299.1a2.8 2.8 0 1 0 5.6 0a2.8 2.8 0 1 0 -5.6 0M129.3 300.8a2.8 2.8 0 1 0 5.6 0a2.8 2.8 0 1 0 -5.6 0M129.3 304.1a2.8 2.8 0 1 0 5.6 0a2.8 2.8 0 1 0 -5.6 0M129.3 305.9a2.8 2.8 0 1 0 5.6 0a2.8 2.8 0 1 0 -5.6 0M129.3 307.6a2.8 2.8 0 1 0 5.6 0a2.8 2.8 0 1 0 -5.6 0M129.3 310.9a2.8 2.8 0 1 0 5.6 0a2.8 2.8 0 1 0 -5.6 0M129.3 312.6a2.8 2.8 0 1 0 5.6 0a2.8 2.8 0 1 0 -5.6 0M129.3 315.0a2.8 2.8 0 1 0 5.6 0a2.8 2.8 0 1 0 -5.6 0M129.3 323.5a2.8 2.8 0 1 0 5.6 0a2.8 2.8 0 1 0 -5.6 0M137.1 285.8a2.8 2.8 0 1 0 5.6 0a2.8 2.8 0 1 0 -5.6 0M137.1 296.5a2.8 2.8 0 1 0 5.6 0a2.8 2.8 0 1 0 -5.6 0M137.1 298.6a2.8 2.8 0 1 0 5.6 0a2.8 2.8 0 1 0 -5.6 0M137.1 300.4a2.8 2.8 0 1 0 5.6 0a2.8 2.8 0 1 0 -5.6 0M137.1 303.7a2.8 2.8 0 1 0 5.6 0a2.8 2.8 0 1 0 -5.6 0M137.1 305.4a2.8 2.8 0 1 0 5.6 0a2.8 2.8 0 1 0 -5.6 0M137.1 308.8a2.8 2.8 0 1 0 5.6 0a2.8 2.8 0 1 0 -5.6 0M137.1 310.5a2.8 2.8 0 1 0 5.6 0a2.8 2.8 0 1 0 -5.6 0M137.1 312.3a2.8 2.8 0 1 0 5.6 0a2.8 2.8 0 1 0 -5.6 0M137.1 315.0a2.8 2.8 0 1 0 5.6 0a2.8 2.8 0 1 0 -5.6 0M137.1 326.6a2.8 2.8 0 1 0 5.6 0a2.8 2.8 0 1 0 -5.6 0M145.0 299.6a2.8 2.8 0 1 0 5.6 0a2.8 2.8 0 1 0 -5.6 0M145.0 302.5a2.8 2.8 0 1 0 5.6 0a2.8 2.8 0 1 0 -5.6 0M145.0 305.0a2.8 2.8 0 1 0 5.6 0a2.8 2.8 0 1 0 -5.6 0M145.0 309.1a2.8 2.8 0 1 0 5.6 0a2.8 2.8 0 1 0 -5.6 0M145.0 311.6a2.8 2.8 0 1 0 5.6 0a2.8 2.8 0 1 0 -5.6 0M145.0 315.7a2.8 2.8 0 1 0 5.6 0a2.8 2.8 0 1 0 -5.6 0M145.0 318.1a2.8 2.8 0 1 0 5.6 0a2.8 2.8 0 1 0 -5.6 0M145.0 321.0a2.8 2.8 0 1 0 5.6 0a2.8 2.8 0 1 0 -5.6 0M145.0 335.0a2.8 2.8 0 1 0 5.6 0a2.8 2.8 0 1 0 -5.6 0M152.8 291.2a2.8 2.8 0 1 0 5.6 0a2.8 2.8 0 1 0 -5.6 0M152.8 307.5a2.8 2.8 0 1 0 5.6 0a2.8 2.8 0 1 0 -5.6 0M152.8 310.5a2.8 2.8 0 1 0 5.6 0a2.8 2.8 0 1 0 -5.6 0M152.8 312.9a2.8 2.8 0 1 0 5.6 0a2.8 2.8 0 1 0 -5.6 0M152.8 317.0a2.8 2.8 0 1 0 5.6 0a2.8 2.8 0 1 0 -5.6 0M152.8 319.4a2.8 2.8 0 1 0 5.6 0a2.8 2.8 0 1 0 -5.6 0M152.8 321.9a2.8 2.8 0 1 0 5.6 0a2.8 2.8 0 1 0 -5.6 0M152.8 325.9a2.8 2.8 0 1 0 5.6 0a2.8 2.8 0 1 0 -5.6 0M152.8 328.4a2.8 2.8 0 1 0 5.6 0a2.8 2.8 0 1 0 -5.6 0M152.8 332.4a2.8 2.8 0 1 0 5.6 0a2.8 2.8 0 1 0 -5.6 0M152.8 334.8a2.8 2.8 0 1 0 5.6 0a2.8 2.8 0 1 0 -5.6 0M152.8 337.7a2.8 2.8 0 1 0 5.6 0a2.8 2.8 0 1 0 -5.6 0M152.8 353.8a2.8 2.8 0 1 0 5.6 0a2.8 2.8 0 1 0 -5.6 0M160.6 307.5a2.8 2.8 0 1 0 5.6 0a2.8 2.8 0 1 0 -5.6 0M160.6 315.4a2.8 2.8 0 1 0 5.6 0a2.8 2.8 0 1 0 -5.6 0M160.6 318.4a2.8 2.8 0 1 0 5.6 0a2.8 2.8 0 1 0 -5.6 0M160.6 320.7a2.8 2.8 0 1 0 5.6 0a2.8 2.8 0 1 0 -5.6 0M160.6 324.7a2.8 2.8 0 1 0 5.6 0a2.8 2.8 0 1 0 -5.6 0M160.6 327.1a2.8 2.8 0 1 0 5.6 0a2.8 2.8 0 1 0 -5.6 0M160.6 329.4a2.8 2.8 0 1 0 5.6 0a2.8 2.8 0 1 0 -5.6 0M160.6 333.4a2.8 2.8 0 1 0 5.6 0a2.8 2.8 0 1 0 -5.6 0M160.6 336.0a2.8 2.8 0 1 0 5.6 0a2.8 2.8 0 1 0 -5.6 0M160.6 349.6a2.8 2.8 0 1 0 5.6 0a2.8 2.8 0 1 0 -5.6 0M160.6 373.5a2.8 2.8 0 1 0 5.6 0a2.8 2.8 0 1 0 -5.6 0M168.4 318.5a2.8 2.8 0 1 0 5.6 0a2.8 2.8 0 1 0 -5.6 0M168.4 322.4a2.8 2.8 0 1 0 5.6 0a2.8 2.8 0 1 0 -5.6 0M168.4 325.5a2.8 2.8 0 1 0 5.6 0a2.8 2.8 0 1 0 -5.6 0M168.4 330.3a2.8 2.8 0 1 0 5.6 0a2.8 2.8 0 1 0 -5.6 0M168.4 333.4a2.8 2.8 0 1 0 5.6 0a2.8 2.8 0 1 0 -5.6 0M168.4 336.6a2.8 2.8 0 1 0 5.6 0a2.8 2.8 0 1 0 -5.6 0M168.4 341.3a2.8 2.8 0 1 0 5.6 0a2.8 2.8 0 1 0 -5.6 0M168.4 344.6a2.8 2.8 0 1 0 5.6 0a2.8 2.8 0 1 0 -5.6 0M168.4 351.5a2.8 2.8 0 1 0 5.6 0a2.8 2.8 0 1 0 -5.6 0M168.4 355.1a2.8 2.8 0 1 0 5.6 0a2.8 2.8 0 1 0 -5.6 0M168.4 358.0a2.8 2.8 0 1 0 5.6 0a2.8 2.8 0 1 0 -5.6 0M168.4 362.5a2.8 2.8 0 1 0 5.6 0a2.8 2.8 0 1 0 -5.6 0M168.4 365.4a2.8 2.8 0 1 0 5.6 0a2.8 2.8 0 1 0 -5.6 0M168.4 373.0a2.8 2.8 0 1 0 5.6 0a2.8 2.8 0 1 0 -5.6 0M168.4 380.8a2.8 2.8 0 1 0 5.6 0a2.8 2.8 0 1 0 -5.6 0M168.4 383.5a2.8 2.8 0 1 0 5.6 0a2.8 2.8 0 1 0 -5.6 0M168.4 386.0a2.8 2.8 0 1 0 5.6 0a2.8 2.8 0 1 0 -5.6 0M176.2 346.0a2.8 2.8 0 1 0 5.6 0a2.8 2.8 0 1 0 -5.6 0M176.2 349.3a2.8 2.8 0 1 0 5.6 0a2.8 2.8 0 1 0 -5.6 0M176.2 351.8a2.8 2.8 0 1 0 5.6 0a2.8 2.8 0 1 0 -5.6 0M176.2 355.9a2.8 2.8 0 1 0 5.6 0a2.8 2.8 0 1 0 -5.6 0M176.2 358.4a2.8 2.8 0 1 0 5.6 0a2.8 2.8 0 1 0 -5.6 0M176.2 361.0a2.8 2.8 0 1 0 5.6 0a2.8 2.8 0 1 0 -5.6 0M176.2 365.1a2.8 2.8 0 1 0 5.6 0a2.8 2.8 0 1 0 -5.6 0M176.2 367.6a2.8 2.8 0 1 0 5.6 0a2.8 2.8 0 1 0 -5.6 0M176.2 370.1a2.8 2.8 0 1 0 5.6 0a2.8 2.8 0 1 0 -5.6 0M176.2 374.2a2.8 2.8 0 1 0 5.6 0a2.8 2.8 0 1 0 -5.6 0M176.2 376.7a2.8 2.8 0 1 0 5.6 0a2.8 2.8 0 1 0 -5.6 0M176.2 380.0a2.8 2.8 0 1 0 5.6 0a2.8 2.8 0 1 0 -5.6 0M176.2 396.0a2.8 2.8 0 1 0 5.6 0a2.8 2.8 0 1 0 -5.6 0M176.2 404.6a2.8 2.8 0 1 0 5.6 0a2.8 2.8 0 1 0 -5.6 0M184.0 351.0a2.8 2.8 0 1 0 5.6 0a2.8 2.8 0 1 0 -5.6 0M184.0 358.5a2.8 2.8 0 1 0 5.6 0a2.8 2.8 0 1 0 -5.6 0M184.0 373.0a2.8 2.8 0 1 0 5.6 0a2.8 2.8 0 1 0 -5.6 0M184.0 380.8a2.8 2.8 0 1 0 5.6 0a2.8 2.8 0 1 0 -5.6 0M184.0 385.1a2.8 2.8 0 1 0 5.6 0a2.8 2.8 0 1 0 -5.6 0M184.0 388.6a2.8 2.8 0 1 0 5.6 0a2.8 2.8 0 1 0 -5.6 0M184.0 393.0a2.8 2.8 0 1 0 5.6 0a2.8 2.8 0 1 0 -5.6 0M184.0 400.0a2.8 2.8 0 1 0 5.6 0a2.8 2.8 0 1 0 -5.6 0M184.0 407.0a2.8 2.8 0 1 0 5.6 0a2.8 2.8 0 1 0 -5.6 0M184.0 415.4a2.8 2.8 0 1 0 5.6 0a2.8 2.8 0 1 0 -5.6 0M184.0 425.4a2.8 2.8 0 1 0 5.6 0a2.8 2.8 0 1 0 -5.6 0M184.0 441.5a2.8 2.8 0 1 0 5.6 0a2.8 2.8 0 1 0 -5.6 0M184.0 453.8a2.8 2.8 0 1 0 5.6 0a2.8 2.8 0 1 0 -5.6 0M191.8 366.0a2.8 2.8 0 1 0 5.6 0a2.8 2.8 0 1 0 -5.6 0M191.8 377.0a2.8 2.8 0 1 0 5.6 0a2.8 2.8 0 1 0 -5.6 0M191.8 387.7a2.8 2.8 0 1 0 5.6 0a2.8 2.8 0 1 0 -5.6 0M191.8 393.0a2.8 2.8 0 1 0 5.6 0a2.8 2.8 0 1 0 -5.6 0M191.8 399.0a2.8 2.8 0 1 0 5.6 0a2.8 2.8 0 1 0 -5.6 0M191.8 403.8a2.8 2.8 0 1 0 5.6 0a2.8 2.8 0 1 0 -5.6 0M191.8 407.7a2.8 2.8 0 1 0 5.6 0a2.8 2.8 0 1 0 -5.6 0M191.8 411.6a2.8 2.8 0 1 0 5.6 0a2.8 2.8 0 1 0 -5.6 0M191.8 417.0a2.8 2.8 0 1 0 5.6 0a2.8 2.8 0 1 0 -5.6 0M191.8 420.9a2.8 2.8 0 1 0 5.6 0a2.8 2.8 0 1 0 -5.6 0M191.8 426.4a2.8 2.8 0 1 0 5.6 0a2.8 2.8 0 1 0 -5.6 0M191.8 430.2a2.8 2.8 0 1 0 5.6 0a2.8 2.8 0 1 0 -5.6 0M191.8 434.6a2.8 2.8 0 1 0 5.6 0a2.8 2.8 0 1 0 -5.6 0M191.8 453.8a2.8 2.8 0 1 0 5.6 0a2.8 2.8 0 1 0 -5.6 0M191.8 475.0a2.8 2.8 0 1 0 5.6 0a2.8 2.8 0 1 0 -5.6 0M199.6 377.0a2.8 2.8 0 1 0 5.6 0a2.8 2.8 0 1 0 -5.6 0M199.6 391.5a2.8 2.8 0 1 0 5.6 0a2.8 2.8 0 1 0 -5.6 0M199.6 397.0a2.8 2.8 0 1 0 5.6 0a2.8 2.8 0 1 0 -5.6 0M199.6 406.0a2.8 2.8 0 1 0 5.6 0a2.8 2.8 0 1 0 -5.6 0M199.6 407.0a2.8 2.8 0 1 0 5.6 0a2.8 2.8 0 1 0 -5.6 0M199.6 412.3a2.8 2.8 0 1 0 5.6 0a2.8 2.8 0 1 0 -5.6 0M199.6 432.3a2.8 2.8 0 1 0 5.6 0a2.8 2.8 0 1 0 -5.6 0M199.6 443.5a2.8 2.8 0 1 0 5.6 0a2.8 2.8 0 1 0 -5.6 0M199.6 475.0a2.8 2.8 0 1 0 5.6 0a2.8 2.8 0 1 0 -5.6 0M207.4 363.8a2.8 2.8 0 1 0 5.6 0a2.8 2.8 0 1 0 -5.6 0M207.4 381.5a2.8 2.8 0 1 0 5.6 0a2.8 2.8 0 1 0 -5.6 0M207.4 393.0a2.8 2.8 0 1 0 5.6 0a2.8 2.8 0 1 0 -5.6 0M207.4 404.0a2.8 2.8 0 1 0 5.6 0a2.8 2.8 0 1 0 -5.6 0M207.4 409.0a2.8 2.8 0 1 0 5.6 0a2.8 2.8 0 1 0 -5.6 0M207.4 412.9a2.8 2.8 0 1 0 5.6 0a2.8 2.8 0 1 0 -5.6 0M207.4 416.7a2.8 2.8 0 1 0 5.6 0a2.8 2.8 0 1 0 -5.6 0M207.4 422.2a2.8 2.8 0 1 0 5.6 0a2.8 2.8 0 1 0 -5.6 0M207.4 426.1a2.8 2.8 0 1 0 5.6 0a2.8 2.8 0 1 0 -5.6 0M207.4 430.8a2.8 2.8 0 1 0 5.6 0a2.8 2.8 0 1 0 -5.6 0M207.4 440.8a2.8 2.8 0 1 0 5.6 0a2.8 2.8 0 1 0 -5.6 0M207.4 447.7a2.8 2.8 0 1 0 5.6 0a2.8 2.8 0 1 0 -5.6 0M207.4 475.0a2.8 2.8 0 1 0 5.6 0a2.8 2.8 0 1 0 -5.6 0M215.2 382.0a2.8 2.8 0 1 0 5.6 0a2.8 2.8 0 1 0 -5.6 0M215.2 386.0a2.8 2.8 0 1 0 5.6 0a2.8 2.8 0 1 0 -5.6 0M215.2 394.6a2.8 2.8 0 1 0 5.6 0a2.8 2.8 0 1 0 -5.6 0M215.2 399.4a2.8 2.8 0 1 0 5.6 0a2.8 2.8 0 1 0 -5.6 0M215.2 403.0a2.8 2.8 0 1 0 5.6 0a2.8 2.8 0 1 0 -5.6 0M215.2 406.6a2.8 2.8 0 1 0 5.6 0a2.8 2.8 0 1 0 -5.6 0M215.2 411.8a2.8 2.8 0 1 0 5.6 0a2.8 2.8 0 1 0 -5.6 0M215.2 415.4a2.8 2.8 0 1 0 5.6 0a2.8 2.8 0 1 0 -5.6 0M215.2 419.0a2.8 2.8 0 1 0 5.6 0a2.8 2.8 0 1 0 -5.6 0M215.2 424.2a2.8 2.8 0 1 0 5.6 0a2.8 2.8 0 1 0 -5.6 0M215.2 427.8a2.8 2.8 0 1 0 5.6 0a2.8 2.8 0 1 0 -5.6 0M215.2 432.3a2.8 2.8 0 1 0 5.6 0a2.8 2.8 0 1 0 -5.6 0M215.2 440.8a2.8 2.8 0 1 0 5.6 0a2.8 2.8 0 1 0 -5.6 0M215.2 474.6a2.8 2.8 0 1 0 5.6 0a2.8 2.8 0 1 0 -5.6 0M223.1 373.2a2.8 2.8 0 1 0 5.6 0a2.8 2.8 0 1 0 -5.6 0M223.1 383.0a2.8 2.8 0 1 0 5.6 0a2.8 2.8 0 1 0 -5.6 0M223.1 389.2a2.8 2.8 0 1 0 5.6 0a2.8 2.8 0 1 0 -5.6 0M223.1 403.0a2.8 2.8 0 1 0 5.6 0a2.8 2.8 0 1 0 -5.6 0M223.1 414.6a2.8 2.8 0 1 0 5.6 0a2.8 2.8 0 1 0 -5.6 0M223.1 419.7a2.8 2.8 0 1 0 5.6 0a2.8 2.8 0 1 0 -5.6 0M223.1 423.5a2.8 2.8 0 1 0 5.6 0a2.8 2.8 0 1 0 -5.6 0M223.1 427.4a2.8 2.8 0 1 0 5.6 0a2.8 2.8 0 1 0 -5.6 0M223.1 432.3a2.8 2.8 0 1 0 5.6 0a2.8 2.8 0 1 0 -5.6 0M223.1 440.8a2.8 2.8 0 1 0 5.6 0a2.8 2.8 0 1 0 -5.6 0M223.1 460.0a2.8 2.8 0 1 0 5.6 0a2.8 2.8 0 1 0 -5.6 0M230.9 359.2a2.8 2.8 0 1 0 5.6 0a2.8 2.8 0 1 0 -5.6 0M230.9 376.0a2.8 2.8 0 1 0 5.6 0a2.8 2.8 0 1 0 -5.6 0M230.9 374.6a2.8 2.8 0 1 0 5.6 0a2.8 2.8 0 1 0 -5.6 0M230.9 380.8a2.8 2.8 0 1 0 5.6 0a2.8 2.8 0 1 0 -5.6 0M230.9 389.0a2.8 2.8 0 1 0 5.6 0a2.8 2.8 0 1 0 -5.6 0M230.9 394.6a2.8 2.8 0 1 0 5.6 0a2.8 2.8 0 1 0 -5.6 0M230.9 400.0a2.8 2.8 0 1 0 5.6 0a2.8 2.8 0 1 0 -5.6 0M230.9 405.0a2.8 2.8 0 1 0 5.6 0a2.8 2.8 0 1 0 -5.6 0M230.9 408.6a2.8 2.8 0 1 0 5.6 0a2.8 2.8 0 1 0 -5.6 0M230.9 412.3a2.8 2.8 0 1 0 5.6 0a2.8 2.8 0 1 0 -5.6 0M230.9 417.5a2.8 2.8 0 1 0 5.6 0a2.8 2.8 0 1 0 -5.6 0M230.9 421.2a2.8 2.8 0 1 0 5.6 0a2.8 2.8 0 1 0 -5.6 0M230.9 425.4a2.8 2.8 0 1 0 5.6 0a2.8 2.8 0 1 0 -5.6 0M230.9 437.0a2.8 2.8 0 1 0 5.6 0a2.8 2.8 0 1 0 -5.6 0M230.9 443.0a2.8 2.8 0 1 0 5.6 0a2.8 2.8 0 1 0 -5.6 0M230.9 453.0a2.8 2.8 0 1 0 5.6 0a2.8 2.8 0 1 0 -5.6 0M230.9 474.6a2.8 2.8 0 1 0 5.6 0a2.8 2.8 0 1 0 -5.6 0M238.7 367.1a2.8 2.8 0 1 0 5.6 0a2.8 2.8 0 1 0 -5.6 0M238.7 382.3a2.8 2.8 0 1 0 5.6 0a2.8 2.8 0 1 0 -5.6 0M238.7 397.7a2.8 2.8 0 1 0 5.6 0a2.8 2.8 0 1 0 -5.6 0M238.7 407.7a2.8 2.8 0 1 0 5.6 0a2.8 2.8 0 1 0 -5.6 0M238.7 411.0a2.8 2.8 0 1 0 5.6 0a2.8 2.8 0 1 0 -5.6 0M238.7 416.1a2.8 2.8 0 1 0 5.6 0a2.8 2.8 0 1 0 -5.6 0M238.7 420.0a2.8 2.8 0 1 0 5.6 0a2.8 2.8 0 1 0 -5.6 0M238.7 430.8a2.8 2.8 0 1 0 5.6 0a2.8 2.8 0 1 0 -5.6 0M238.7 440.8a2.8 2.8 0 1 0 5.6 0a2.8 2.8 0 1 0 -5.6 0M238.7 453.0a2.8 2.8 0 1 0 5.6 0a2.8 2.8 0 1 0 -5.6 0M238.7 474.6a2.8 2.8 0 1 0 5.6 0a2.8 2.8 0 1 0 -5.6 0M246.5 364.0a2.8 2.8 0 1 0 5.6 0a2.8 2.8 0 1 0 -5.6 0M246.5 393.0a2.8 2.8 0 1 0 5.6 0a2.8 2.8 0 1 0 -5.6 0M246.5 396.5a2.8 2.8 0 1 0 5.6 0a2.8 2.8 0 1 0 -5.6 0M246.5 401.8a2.8 2.8 0 1 0 5.6 0a2.8 2.8 0 1 0 -5.6 0M246.5 405.4a2.8 2.8 0 1 0 5.6 0a2.8 2.8 0 1 0 -5.6 0M246.5 410.7a2.8 2.8 0 1 0 5.6 0a2.8 2.8 0 1 0 -5.6 0M246.5 414.4a2.8 2.8 0 1 0 5.6 0a2.8 2.8 0 1 0 -5.6 0M246.5 418.0a2.8 2.8 0 1 0 5.6 0a2.8 2.8 0 1 0 -5.6 0M246.5 423.3a2.8 2.8 0 1 0 5.6 0a2.8 2.8 0 1 0 -5.6 0M246.5 426.9a2.8 2.8 0 1 0 5.6 0a2.8 2.8 0 1 0 -5.6 0M246.5 430.6a2.8 2.8 0 1 0 5.6 0a2.8 2.8 0 1 0 -5.6 0M246.5 435.4a2.8 2.8 0 1 0 5.6 0a2.8 2.8 0 1 0 -5.6 0M254.3 367.4a2.8 2.8 0 1 0 5.6 0a2.8 2.8 0 1 0 -5.6 0M254.3 373.0a2.8 2.8 0 1 0 5.6 0a2.8 2.8 0 1 0 -5.6 0M254.3 385.4a2.8 2.8 0 1 0 5.6 0a2.8 2.8 0 1 0 -5.6 0M254.3 394.6a2.8 2.8 0 1 0 5.6 0a2.8 2.8 0 1 0 -5.6 0M254.3 403.0a2.8 2.8 0 1 0 5.6 0a2.8 2.8 0 1 0 -5.6 0M254.3 415.4a2.8 2.8 0 1 0 5.6 0a2.8 2.8 0 1 0 -5.6 0M254.3 424.6a2.8 2.8 0 1 0 5.6 0a2.8 2.8 0 1 0 -5.6 0M254.3 427.8a2.8 2.8 0 1 0 5.6 0a2.8 2.8 0 1 0 -5.6 0M254.3 432.3a2.8 2.8 0 1 0 5.6 0a2.8 2.8 0 1 0 -5.6 0M254.3 447.0a2.8 2.8 0 1 0 5.6 0a2.8 2.8 0 1 0 -5.6 0M254.3 453.0a2.8 2.8 0 1 0 5.6 0a2.8 2.8 0 1 0 -5.6 0M254.3 474.6a2.8 2.8 0 1 0 5.6 0a2.8 2.8 0 1 0 -5.6 0M262.1 362.3a2.8 2.8 0 1 0 5.6 0a2.8 2.8 0 1 0 -5.6 0M262.1 374.6a2.8 2.8 0 1 0 5.6 0a2.8 2.8 0 1 0 -5.6 0M262.1 385.4a2.8 2.8 0 1 0 5.6 0a2.8 2.8 0 1 0 -5.6 0M262.1 393.0a2.8 2.8 0 1 0 5.6 0a2.8 2.8 0 1 0 -5.6 0M262.1 403.0a2.8 2.8 0 1 0 5.6 0a2.8 2.8 0 1 0 -5.6 0M262.1 406.7a2.8 2.8 0 1 0 5.6 0a2.8 2.8 0 1 0 -5.6 0M262.1 411.5a2.8 2.8 0 1 0 5.6 0a2.8 2.8 0 1 0 -5.6 0M262.1 424.6a2.8 2.8 0 1 0 5.6 0a2.8 2.8 0 1 0 -5.6 0M262.1 427.9a2.8 2.8 0 1 0 5.6 0a2.8 2.8 0 1 0 -5.6 0M262.1 432.3a2.8 2.8 0 1 0 5.6 0a2.8 2.8 0 1 0 -5.6 0M262.1 442.3a2.8 2.8 0 1 0 5.6 0a2.8 2.8 0 1 0 -5.6 0M262.1 447.7a2.8 2.8 0 1 0 5.6 0a2.8 2.8 0 1 0 -5.6 0M262.1 474.6a2.8 2.8 0 1 0 5.6 0a2.8 2.8 0 1 0 -5.6 0M269.9 357.3a2.8 2.8 0 1 0 5.6 0a2.8 2.8 0 1 0 -5.6 0M269.9 369.0a2.8 2.8 0 1 0 5.6 0a2.8 2.8 0 1 0 -5.6 0M269.9 372.5a2.8 2.8 0 1 0 5.6 0a2.8 2.8 0 1 0 -5.6 0M269.9 377.6a2.8 2.8 0 1 0 5.6 0a2.8 2.8 0 1 0 -5.6 0M269.9 381.1a2.8 2.8 0 1 0 5.6 0a2.8 2.8 0 1 0 -5.6 0M269.9 384.5a2.8 2.8 0 1 0 5.6 0a2.8 2.8 0 1 0 -5.6 0M269.9 389.2a2.8 2.8 0 1 0 5.6 0a2.8 2.8 0 1 0 -5.6 0M269.9 397.7a2.8 2.8 0 1 0 5.6 0a2.8 2.8 0 1 0 -5.6 0M269.9 407.0a2.8 2.8 0 1 0 5.6 0a2.8 2.8 0 1 0 -5.6 0M269.9 418.5a2.8 2.8 0 1 0 5.6 0a2.8 2.8 0 1 0 -5.6 0M269.9 423.3a2.8 2.8 0 1 0 5.6 0a2.8 2.8 0 1 0 -5.6 0M269.9 429.2a2.8 2.8 0 1 0 5.6 0a2.8 2.8 0 1 0 -5.6 0M269.9 453.0a2.8 2.8 0 1 0 5.6 0a2.8 2.8 0 1 0 -5.6 0M269.9 474.6a2.8 2.8 0 1 0 5.6 0a2.8 2.8 0 1 0 -5.6 0M277.7 342.2a2.8 2.8 0 1 0 5.6 0a2.8 2.8 0 1 0 -5.6 0M277.7 354.8a2.8 2.8 0 1 0 5.6 0a2.8 2.8 0 1 0 -5.6 0M277.7 367.0a2.8 2.8 0 1 0 5.6 0a2.8 2.8 0 1 0 -5.6 0M277.7 373.0a2.8 2.8 0 1 0 5.6 0a2.8 2.8 0 1 0 -5.6 0M277.7 384.0a2.8 2.8 0 1 0 5.6 0a2.8 2.8 0 1 0 -5.6 0M277.7 389.2a2.8 2.8 0 1 0 5.6 0a2.8 2.8 0 1 0 -5.6 0M277.7 413.0a2.8 2.8 0 1 0 5.6 0a2.8 2.8 0 1 0 -5.6 0M277.7 421.5a2.8 2.8 0 1 0 5.6 0a2.8 2.8 0 1 0 -5.6 0M277.7 431.5a2.8 2.8 0 1 0 5.6 0a2.8 2.8 0 1 0 -5.6 0M277.7 440.8a2.8 2.8 0 1 0 5.6 0a2.8 2.8 0 1 0 -5.6 0M277.7 453.0a2.8 2.8 0 1 0 5.6 0a2.8 2.8 0 1 0 -5.6 0M277.7 474.6a2.8 2.8 0 1 0 5.6 0a2.8 2.8 0 1 0 -5.6 0M285.5 351.5a2.8 2.8 0 1 0 5.6 0a2.8 2.8 0 1 0 -5.6 0M285.5 356.0a2.8 2.8 0 1 0 5.6 0a2.8 2.8 0 1 0 -5.6 0M285.5 361.8a2.8 2.8 0 1 0 5.6 0a2.8 2.8 0 1 0 -5.6 0M285.5 366.1a2.8 2.8 0 1 0 5.6 0a2.8 2.8 0 1 0 -5.6 0M285.5 370.8a2.8 2.8 0 1 0 5.6 0a2.8 2.8 0 1 0 -5.6 0M285.5 397.7a2.8 2.8 0 1 0 5.6 0a2.8 2.8 0 1 0 -5.6 0M285.5 404.6a2.8 2.8 0 1 0 5.6 0a2.8 2.8 0 1 0 -5.6 0M285.5 410.8a2.8 2.8 0 1 0 5.6 0a2.8 2.8 0 1 0 -5.6 0M285.5 418.5a2.8 2.8 0 1 0 5.6 0a2.8 2.8 0 1 0 -5.6 0M285.5 423.0a2.8 2.8 0 1 0 5.6 0a2.8 2.8 0 1 0 -5.6 0M285.5 430.8a2.8 2.8 0 1 0 5.6 0a2.8 2.8 0 1 0 -5.6 0M285.5 433.0a2.8 2.8 0 1 0 5.6 0a2.8 2.8 0 1 0 -5.6 0M285.5 452.8a2.8 2.8 0 1 0 5.6 0a2.8 2.8 0 1 0 -5.6 0M285.5 474.4a2.8 2.8 0 1 0 5.6 0a2.8 2.8 0 1 0 -5.6 0M293.3 334.0a2.8 2.8 0 1 0 5.6 0a2.8 2.8 0 1 0 -5.6 0M293.3 350.0a2.8 2.8 0 1 0 5.6 0a2.8 2.8 0 1 0 -5.6 0M293.3 354.7a2.8 2.8 0 1 0 5.6 0a2.8 2.8 0 1 0 -5.6 0M293.3 360.7a2.8 2.8 0 1 0 5.6 0a2.8 2.8 0 1 0 -5.6 0M293.3 365.0a2.8 2.8 0 1 0 5.6 0a2.8 2.8 0 1 0 -5.6 0M293.3 377.0a2.8 2.8 0 1 0 5.6 0a2.8 2.8 0 1 0 -5.6 0M293.3 383.0a2.8 2.8 0 1 0 5.6 0a2.8 2.8 0 1 0 -5.6 0M293.3 413.8a2.8 2.8 0 1 0 5.6 0a2.8 2.8 0 1 0 -5.6 0M293.3 417.5a2.8 2.8 0 1 0 5.6 0a2.8 2.8 0 1 0 -5.6 0M293.3 422.5a2.8 2.8 0 1 0 5.6 0a2.8 2.8 0 1 0 -5.6 0M293.3 425.8a2.8 2.8 0 1 0 5.6 0a2.8 2.8 0 1 0 -5.6 0M293.3 431.5a2.8 2.8 0 1 0 5.6 0a2.8 2.8 0 1 0 -5.6 0M293.3 439.0a2.8 2.8 0 1 0 5.6 0a2.8 2.8 0 1 0 -5.6 0M293.3 445.0a2.8 2.8 0 1 0 5.6 0a2.8 2.8 0 1 0 -5.6 0M293.3 474.4a2.8 2.8 0 1 0 5.6 0a2.8 2.8 0 1 0 -5.6 0M301.2 343.0a2.8 2.8 0 1 0 5.6 0a2.8 2.8 0 1 0 -5.6 0M301.2 355.0a2.8 2.8 0 1 0 5.6 0a2.8 2.8 0 1 0 -5.6 0M301.2 377.0a2.8 2.8 0 1 0 5.6 0a2.8 2.8 0 1 0 -5.6 0M301.2 381.5a2.8 2.8 0 1 0 5.6 0a2.8 2.8 0 1 0 -5.6 0M301.2 388.5a2.8 2.8 0 1 0 5.6 0a2.8 2.8 0 1 0 -5.6 0M301.2 391.7a2.8 2.8 0 1 0 5.6 0a2.8 2.8 0 1 0 -5.6 0M301.2 395.4a2.8 2.8 0 1 0 5.6 0a2.8 2.8 0 1 0 -5.6 0M301.2 406.0a2.8 2.8 0 1 0 5.6 0a2.8 2.8 0 1 0 -5.6 0M301.2 414.6a2.8 2.8 0 1 0 5.6 0a2.8 2.8 0 1 0 -5.6 0M301.2 418.5a2.8 2.8 0 1 0 5.6 0a2.8 2.8 0 1 0 -5.6 0M301.2 430.8a2.8 2.8 0 1 0 5.6 0a2.8 2.8 0 1 0 -5.6 0M301.2 433.0a2.8 2.8 0 1 0 5.6 0a2.8 2.8 0 1 0 -5.6 0M309.0 333.2a2.8 2.8 0 1 0 5.6 0a2.8 2.8 0 1 0 -5.6 0M309.0 344.6a2.8 2.8 0 1 0 5.6 0a2.8 2.8 0 1 0 -5.6 0M309.0 355.4a2.8 2.8 0 1 0 5.6 0a2.8 2.8 0 1 0 -5.6 0M309.0 371.5a2.8 2.8 0 1 0 5.6 0a2.8 2.8 0 1 0 -5.6 0M309.0 377.7a2.8 2.8 0 1 0 5.6 0a2.8 2.8 0 1 0 -5.6 0M309.0 397.0a2.8 2.8 0 1 0 5.6 0a2.8 2.8 0 1 0 -5.6 0M309.0 403.0a2.8 2.8 0 1 0 5.6 0a2.8 2.8 0 1 0 -5.6 0M309.0 407.7a2.8 2.8 0 1 0 5.6 0a2.8 2.8 0 1 0 -5.6 0M309.0 430.8a2.8 2.8 0 1 0 5.6 0a2.8 2.8 0 1 0 -5.6 0M309.0 433.0a2.8 2.8 0 1 0 5.6 0a2.8 2.8 0 1 0 -5.6 0M309.0 439.7a2.8 2.8 0 1 0 5.6 0a2.8 2.8 0 1 0 -5.6 0M309.0 452.7a2.8 2.8 0 1 0 5.6 0a2.8 2.8 0 1 0 -5.6 0M309.0 474.2a2.8 2.8 0 1 0 5.6 0a2.8 2.8 0 1 0 -5.6 0M316.8 328.5a2.8 2.8 0 1 0 5.6 0a2.8 2.8 0 1 0 -5.6 0M316.8 334.6a2.8 2.8 0 1 0 5.6 0a2.8 2.8 0 1 0 -5.6 0M316.8 342.3a2.8 2.8 0 1 0 5.6 0a2.8 2.8 0 1 0 -5.6 0M316.8 346.1a2.8 2.8 0 1 0 5.6 0a2.8 2.8 0 1 0 -5.6 0M316.8 350.0a2.8 2.8 0 1 0 5.6 0a2.8 2.8 0 1 0 -5.6 0M316.8 357.0a2.8 2.8 0 1 0 5.6 0a2.8 2.8 0 1 0 -5.6 0M316.8 373.8a2.8 2.8 0 1 0 5.6 0a2.8 2.8 0 1 0 -5.6 0M316.8 380.0a2.8 2.8 0 1 0 5.6 0a2.8 2.8 0 1 0 -5.6 0M316.8 390.8a2.8 2.8 0 1 0 5.6 0a2.8 2.8 0 1 0 -5.6 0M316.8 400.0a2.8 2.8 0 1 0 5.6 0a2.8 2.8 0 1 0 -5.6 0M316.8 410.0a2.8 2.8 0 1 0 5.6 0a2.8 2.8 0 1 0 -5.6 0M316.8 419.2a2.8 2.8 0 1 0 5.6 0a2.8 2.8 0 1 0 -5.6 0M316.8 421.5a2.8 2.8 0 1 0 5.6 0a2.8 2.8 0 1 0 -5.6 0M316.8 452.7a2.8 2.8 0 1 0 5.6 0a2.8 2.8 0 1 0 -5.6 0M324.6 333.8a2.8 2.8 0 1 0 5.6 0a2.8 2.8 0 1 0 -5.6 0M324.6 346.0a2.8 2.8 0 1 0 5.6 0a2.8 2.8 0 1 0 -5.6 0M324.6 351.5a2.8 2.8 0 1 0 5.6 0a2.8 2.8 0 1 0 -5.6 0M324.6 356.0a2.8 2.8 0 1 0 5.6 0a2.8 2.8 0 1 0 -5.6 0M324.6 367.0a2.8 2.8 0 1 0 5.6 0a2.8 2.8 0 1 0 -5.6 0M324.6 383.0a2.8 2.8 0 1 0 5.6 0a2.8 2.8 0 1 0 -5.6 0M324.6 387.7a2.8 2.8 0 1 0 5.6 0a2.8 2.8 0 1 0 -5.6 0M324.6 406.0a2.8 2.8 0 1 0 5.6 0a2.8 2.8 0 1 0 -5.6 0M324.6 410.7a2.8 2.8 0 1 0 5.6 0a2.8 2.8 0 1 0 -5.6 0M324.6 414.7a2.8 2.8 0 1 0 5.6 0a2.8 2.8 0 1 0 -5.6 0M324.6 420.4a2.8 2.8 0 1 0 5.6 0a2.8 2.8 0 1 0 -5.6 0M324.6 424.6a2.8 2.8 0 1 0 5.6 0a2.8 2.8 0 1 0 -5.6 0M324.6 440.4a2.8 2.8 0 1 0 5.6 0a2.8 2.8 0 1 0 -5.6 0M332.4 303.5a2.8 2.8 0 1 0 5.6 0a2.8 2.8 0 1 0 -5.6 0M332.4 317.7a2.8 2.8 0 1 0 5.6 0a2.8 2.8 0 1 0 -5.6 0M332.4 331.5a2.8 2.8 0 1 0 5.6 0a2.8 2.8 0 1 0 -5.6 0M332.4 343.0a2.8 2.8 0 1 0 5.6 0a2.8 2.8 0 1 0 -5.6 0M332.4 360.4a2.8 2.8 0 1 0 5.6 0a2.8 2.8 0 1 0 -5.6 0M332.4 377.0a2.8 2.8 0 1 0 5.6 0a2.8 2.8 0 1 0 -5.6 0M332.4 380.0a2.8 2.8 0 1 0 5.6 0a2.8 2.8 0 1 0 -5.6 0M332.4 394.6a2.8 2.8 0 1 0 5.6 0a2.8 2.8 0 1 0 -5.6 0M332.4 401.5a2.8 2.8 0 1 0 5.6 0a2.8 2.8 0 1 0 -5.6 0M332.4 413.8a2.8 2.8 0 1 0 5.6 0a2.8 2.8 0 1 0 -5.6 0M332.4 418.5a2.8 2.8 0 1 0 5.6 0a2.8 2.8 0 1 0 -5.6 0M332.4 474.2a2.8 2.8 0 1 0 5.6 0a2.8 2.8 0 1 0 -5.6 0M340.2 319.2a2.8 2.8 0 1 0 5.6 0a2.8 2.8 0 1 0 -5.6 0M340.2 332.3a2.8 2.8 0 1 0 5.6 0a2.8 2.8 0 1 0 -5.6 0M340.2 337.7a2.8 2.8 0 1 0 5.6 0a2.8 2.8 0 1 0 -5.6 0M340.2 350.8a2.8 2.8 0 1 0 5.6 0a2.8 2.8 0 1 0 -5.6 0M340.2 357.7a2.8 2.8 0 1 0 5.6 0a2.8 2.8 0 1 0 -5.6 0M340.2 362.3a2.8 2.8 0 1 0 5.6 0a2.8 2.8 0 1 0 -5.6 0M340.2 389.2a2.8 2.8 0 1 0 5.6 0a2.8 2.8 0 1 0 -5.6 0M340.2 398.5a2.8 2.8 0 1 0 5.6 0a2.8 2.8 0 1 0 -5.6 0M340.2 410.0a2.8 2.8 0 1 0 5.6 0a2.8 2.8 0 1 0 -5.6 0M340.2 474.2a2.8 2.8 0 1 0 5.6 0a2.8 2.8 0 1 0 -5.6 0M348.0 319.2a2.8 2.8 0 1 0 5.6 0a2.8 2.8 0 1 0 -5.6 0M348.0 323.3a2.8 2.8 0 1 0 5.6 0a2.8 2.8 0 1 0 -5.6 0M348.0 327.0a2.8 2.8 0 1 0 5.6 0a2.8 2.8 0 1 0 -5.6 0M348.0 333.8a2.8 2.8 0 1 0 5.6 0a2.8 2.8 0 1 0 -5.6 0M348.0 337.7a2.8 2.8 0 1 0 5.6 0a2.8 2.8 0 1 0 -5.6 0M348.0 346.0a2.8 2.8 0 1 0 5.6 0a2.8 2.8 0 1 0 -5.6 0M348.0 365.4a2.8 2.8 0 1 0 5.6 0a2.8 2.8 0 1 0 -5.6 0M348.0 376.0a2.8 2.8 0 1 0 5.6 0a2.8 2.8 0 1 0 -5.6 0M348.0 390.8a2.8 2.8 0 1 0 5.6 0a2.8 2.8 0 1 0 -5.6 0M348.0 394.5a2.8 2.8 0 1 0 5.6 0a2.8 2.8 0 1 0 -5.6 0M348.0 397.7a2.8 2.8 0 1 0 5.6 0a2.8 2.8 0 1 0 -5.6 0M348.0 406.0a2.8 2.8 0 1 0 5.6 0a2.8 2.8 0 1 0 -5.6 0M348.0 421.5a2.8 2.8 0 1 0 5.6 0a2.8 2.8 0 1 0 -5.6 0M348.0 430.9a2.8 2.8 0 1 0 5.6 0a2.8 2.8 0 1 0 -5.6 0M355.8 302.8a2.8 2.8 0 1 0 5.6 0a2.8 2.8 0 1 0 -5.6 0M355.8 304.8a2.8 2.8 0 1 0 5.6 0a2.8 2.8 0 1 0 -5.6 0M355.8 313.0a2.8 2.8 0 1 0 5.6 0a2.8 2.8 0 1 0 -5.6 0M355.8 348.5a2.8 2.8 0 1 0 5.6 0a2.8 2.8 0 1 0 -5.6 0M355.8 356.0a2.8 2.8 0 1 0 5.6 0a2.8 2.8 0 1 0 -5.6 0M355.8 389.6a2.8 2.8 0 1 0 5.6 0a2.8 2.8 0 1 0 -5.6 0M355.8 392.7a2.8 2.8 0 1 0 5.6 0a2.8 2.8 0 1 0 -5.6 0M355.8 418.5a2.8 2.8 0 1 0 5.6 0a2.8 2.8 0 1 0 -5.6 0M355.8 430.9a2.8 2.8 0 1 0 5.6 0a2.8 2.8 0 1 0 -5.6 0M363.6 308.5a2.8 2.8 0 1 0 5.6 0a2.8 2.8 0 1 0 -5.6 0M363.6 316.5a2.8 2.8 0 1 0 5.6 0a2.8 2.8 0 1 0 -5.6 0M363.6 334.6a2.8 2.8 0 1 0 5.6 0a2.8 2.8 0 1 0 -5.6 0M363.6 342.3a2.8 2.8 0 1 0 5.6 0a2.8 2.8 0 1 0 -5.6 0M363.6 351.5a2.8 2.8 0 1 0 5.6 0a2.8 2.8 0 1 0 -5.6 0M363.6 357.0a2.8 2.8 0 1 0 5.6 0a2.8 2.8 0 1 0 -5.6 0M363.6 381.0a2.8 2.8 0 1 0 5.6 0a2.8 2.8 0 1 0 -5.6 0M363.6 383.5a2.8 2.8 0 1 0 5.6 0a2.8 2.8 0 1 0 -5.6 0M363.6 394.8a2.8 2.8 0 1 0 5.6 0a2.8 2.8 0 1 0 -5.6 0M363.6 418.5a2.8 2.8 0 1 0 5.6 0a2.8 2.8 0 1 0 -5.6 0M371.4 310.5a2.8 2.8 0 1 0 5.6 0a2.8 2.8 0 1 0 -5.6 0M371.4 312.5a2.8 2.8 0 1 0 5.6 0a2.8 2.8 0 1 0 -5.6 0M371.4 323.0a2.8 2.8 0 1 0 5.6 0a2.8 2.8 0 1 0 -5.6 0M371.4 336.0a2.8 2.8 0 1 0 5.6 0a2.8 2.8 0 1 0 -5.6 0M371.4 338.0a2.8 2.8 0 1 0 5.6 0a2.8 2.8 0 1 0 -5.6 0M371.4 349.8a2.8 2.8 0 1 0 5.6 0a2.8 2.8 0 1 0 -5.6 0M371.4 376.3a2.8 2.8 0 1 0 5.6 0a2.8 2.8 0 1 0 -5.6 0M371.4 378.3a2.8 2.8 0 1 0 5.6 0a2.8 2.8 0 1 0 -5.6 0M371.4 385.0a2.8 2.8 0 1 0 5.6 0a2.8 2.8 0 1 0 -5.6 0M371.4 394.0a2.8 2.8 0 1 0 5.6 0a2.8 2.8 0 1 0 -5.6 0M371.4 398.8a2.8 2.8 0 1 0 5.6 0a2.8 2.8 0 1 0 -5.6 0M371.4 402.7a2.8 2.8 0 1 0 5.6 0a2.8 2.8 0 1 0 -5.6 0M379.3 307.0a2.8 2.8 0 1 0 5.6 0a2.8 2.8 0 1 0 -5.6 0M379.3 312.9a2.8 2.8 0 1 0 5.6 0a2.8 2.8 0 1 0 -5.6 0M379.3 317.7a2.8 2.8 0 1 0 5.6 0a2.8 2.8 0 1 0 -5.6 0M379.3 329.0a2.8 2.8 0 1 0 5.6 0a2.8 2.8 0 1 0 -5.6 0M379.3 331.5a2.8 2.8 0 1 0 5.6 0a2.8 2.8 0 1 0 -5.6 0M379.3 368.8a2.8 2.8 0 1 0 5.6 0a2.8 2.8 0 1 0 -5.6 0M379.3 388.0a2.8 2.8 0 1 0 5.6 0a2.8 2.8 0 1 0 -5.6 0M379.3 402.7a2.8 2.8 0 1 0 5.6 0a2.8 2.8 0 1 0 -5.6 0M387.1 300.8a2.8 2.8 0 1 0 5.6 0a2.8 2.8 0 1 0 -5.6 0M387.1 307.7a2.8 2.8 0 1 0 5.6 0a2.8 2.8 0 1 0 -5.6 0M387.1 316.0a2.8 2.8 0 1 0 5.6 0a2.8 2.8 0 1 0 -5.6 0M387.1 326.0a2.8 2.8 0 1 0 5.6 0a2.8 2.8 0 1 0 -5.6 0M387.1 329.0a2.8 2.8 0 1 0 5.6 0a2.8 2.8 0 1 0 -5.6 0M387.1 353.6a2.8 2.8 0 1 0 5.6 0a2.8 2.8 0 1 0 -5.6 0M387.1 371.0a2.8 2.8 0 1 0 5.6 0a2.8 2.8 0 1 0 -5.6 0M387.1 375.8a2.8 2.8 0 1 0 5.6 0a2.8 2.8 0 1 0 -5.6 0M387.1 384.2a2.8 2.8 0 1 0 5.6 0a2.8 2.8 0 1 0 -5.6 0M387.1 439.2a2.8 2.8 0 1 0 5.6 0a2.8 2.8 0 1 0 -5.6 0M394.9 303.0a2.8 2.8 0 1 0 5.6 0a2.8 2.8 0 1 0 -5.6 0M394.9 308.5a2.8 2.8 0 1 0 5.6 0a2.8 2.8 0 1 0 -5.6 0M394.9 318.5a2.8 2.8 0 1 0 5.6 0a2.8 2.8 0 1 0 -5.6 0M394.9 322.9a2.8 2.8 0 1 0 5.6 0a2.8 2.8 0 1 0 -5.6 0M394.9 326.0a2.8 2.8 0 1 0 5.6 0a2.8 2.8 0 1 0 -5.6 0M394.9 351.3a2.8 2.8 0 1 0 5.6 0a2.8 2.8 0 1 0 -5.6 0M394.9 353.3a2.8 2.8 0 1 0 5.6 0a2.8 2.8 0 1 0 -5.6 0M394.9 409.8a2.8 2.8 0 1 0 5.6 0a2.8 2.8 0 1 0 -5.6 0M394.9 430.8a2.8 2.8 0 1 0 5.6 0a2.8 2.8 0 1 0 -5.6 0M394.9 473.0a2.8 2.8 0 1 0 5.6 0a2.8 2.8 0 1 0 -5.6 0M402.7 300.8a2.8 2.8 0 1 0 5.6 0a2.8 2.8 0 1 0 -5.6 0M402.7 308.5a2.8 2.8 0 1 0 5.6 0a2.8 2.8 0 1 0 -5.6 0M402.7 317.5a2.8 2.8 0 1 0 5.6 0a2.8 2.8 0 1 0 -5.6 0M402.7 319.5a2.8 2.8 0 1 0 5.6 0a2.8 2.8 0 1 0 -5.6 0M402.7 361.0a2.8 2.8 0 1 0 5.6 0a2.8 2.8 0 1 0 -5.6 0M402.7 413.2a2.8 2.8 0 1 0 5.6 0a2.8 2.8 0 1 0 -5.6 0M402.7 430.8a2.8 2.8 0 1 0 5.6 0a2.8 2.8 0 1 0 -5.6 0M402.7 473.0a2.8 2.8 0 1 0 5.6 0a2.8 2.8 0 1 0 -5.6 0M410.5 299.8a2.8 2.8 0 1 0 5.6 0a2.8 2.8 0 1 0 -5.6 0M410.5 301.8a2.8 2.8 0 1 0 5.6 0a2.8 2.8 0 1 0 -5.6 0M410.5 314.6a2.8 2.8 0 1 0 5.6 0a2.8 2.8 0 1 0 -5.6 0M410.5 318.5a2.8 2.8 0 1 0 5.6 0a2.8 2.8 0 1 0 -5.6 0M410.5 342.5a2.8 2.8 0 1 0 5.6 0a2.8 2.8 0 1 0 -5.6 0M410.5 397.3a2.8 2.8 0 1 0 5.6 0a2.8 2.8 0 1 0 -5.6 0M410.5 451.5a2.8 2.8 0 1 0 5.6 0a2.8 2.8 0 1 0 -5.6 0M410.5 473.0a2.8 2.8 0 1 0 5.6 0a2.8 2.8 0 1 0 -5.6 0M418.3 297.7a2.8 2.8 0 1 0 5.6 0a2.8 2.8 0 1 0 -5.6 0M418.3 303.8a2.8 2.8 0 1 0 5.6 0a2.8 2.8 0 1 0 -5.6 0M418.3 311.3a2.8 2.8 0 1 0 5.6 0a2.8 2.8 0 1 0 -5.6 0M418.3 313.3a2.8 2.8 0 1 0 5.6 0a2.8 2.8 0 1 0 -5.6 0M418.3 329.0a2.8 2.8 0 1 0 5.6 0a2.8 2.8 0 1 0 -5.6 0M418.3 390.4a2.8 2.8 0 1 0 5.6 0a2.8 2.8 0 1 0 -5.6 0M418.3 451.5a2.8 2.8 0 1 0 5.6 0a2.8 2.8 0 1 0 -5.6 0M426.1 301.5a2.8 2.8 0 1 0 5.6 0a2.8 2.8 0 1 0 -5.6 0M426.1 305.1a2.8 2.8 0 1 0 5.6 0a2.8 2.8 0 1 0 -5.6 0M426.1 310.0a2.8 2.8 0 1 0 5.6 0a2.8 2.8 0 1 0 -5.6 0M426.1 329.8a2.8 2.8 0 1 0 5.6 0a2.8 2.8 0 1 0 -5.6 0M426.1 352.7a2.8 2.8 0 1 0 5.6 0a2.8 2.8 0 1 0 -5.6 0M426.1 358.8a2.8 2.8 0 1 0 5.6 0a2.8 2.8 0 1 0 -5.6 0M426.1 392.0a2.8 2.8 0 1 0 5.6 0a2.8 2.8 0 1 0 -5.6 0M426.1 423.3a2.8 2.8 0 1 0 5.6 0a2.8 2.8 0 1 0 -5.6 0M433.9 300.4a2.8 2.8 0 1 0 5.6 0a2.8 2.8 0 1 0 -5.6 0M433.9 304.2a2.8 2.8 0 1 0 5.6 0a2.8 2.8 0 1 0 -5.6 0M433.9 314.2a2.8 2.8 0 1 0 5.6 0a2.8 2.8 0 1 0 -5.6 0M433.9 329.0a2.8 2.8 0 1 0 5.6 0a2.8 2.8 0 1 0 -5.6 0M433.9 350.2a2.8 2.8 0 1 0 5.6 0a2.8 2.8 0 1 0 -5.6 0M433.9 382.7a2.8 2.8 0 1 0 5.6 0a2.8 2.8 0 1 0 -5.6 0M433.9 430.8a2.8 2.8 0 1 0 5.6 0a2.8 2.8 0 1 0 -5.6 0M441.7 294.2a2.8 2.8 0 1 0 5.6 0a2.8 2.8 0 1 0 -5.6 0M441.7 298.0a2.8 2.8 0 1 0 5.6 0a2.8 2.8 0 1 0 -5.6 0M441.7 302.7a2.8 2.8 0 1 0 5.6 0a2.8 2.8 0 1 0 -5.6 0M441.7 337.3a2.8 2.8 0 1 0 5.6 0a2.8 2.8 0 1 0 -5.6 0M441.7 388.0a2.8 2.8 0 1 0 5.6 0a2.8 2.8 0 1 0 -5.6 0M449.6 299.6a2.8 2.8 0 1 0 5.6 0a2.8 2.8 0 1 0 -5.6 0M449.6 306.5a2.8 2.8 0 1 0 5.6 0a2.8 2.8 0 1 0 -5.6 0M449.6 310.0a2.8 2.8 0 1 0 5.6 0a2.8 2.8 0 1 0 -5.6 0M449.6 314.2a2.8 2.8 0 1 0 5.6 0a2.8 2.8 0 1 0 -5.6 0M449.6 325.8a2.8 2.8 0 1 0 5.6 0a2.8 2.8 0 1 0 -5.6 0M449.6 332.0a2.8 2.8 0 1 0 5.6 0a2.8 2.8 0 1 0 -5.6 0M449.6 353.1a2.8 2.8 0 1 0 5.6 0a2.8 2.8 0 1 0 -5.6 0M449.6 379.6a2.8 2.8 0 1 0 5.6 0a2.8 2.8 0 1 0 -5.6 0M457.4 298.8a2.8 2.8 0 1 0 5.6 0a2.8 2.8 0 1 0 -5.6 0M457.4 346.9a2.8 2.8 0 1 0 5.6 0a2.8 2.8 0 1 0 -5.6 0M457.4 360.4a2.8 2.8 0 1 0 5.6 0a2.8 2.8 0 1 0 -5.6 0M457.4 372.0a2.8 2.8 0 1 0 5.6 0a2.8 2.8 0 1 0 -5.6 0M465.2 297.8a2.8 2.8 0 1 0 5.6 0a2.8 2.8 0 1 0 -5.6 0M465.2 299.8a2.8 2.8 0 1 0 5.6 0a2.8 2.8 0 1 0 -5.6 0M465.2 318.8a2.8 2.8 0 1 0 5.6 0a2.8 2.8 0 1 0 -5.6 0M465.2 360.4a2.8 2.8 0 1 0 5.6 0a2.8 2.8 0 1 0 -5.6 0M473.0 295.0a2.8 2.8 0 1 0 5.6 0a2.8 2.8 0 1 0 -5.6 0M473.0 298.3a2.8 2.8 0 1 0 5.6 0a2.8 2.8 0 1 0 -5.6 0M473.0 302.0a2.8 2.8 0 1 0 5.6 0a2.8 2.8 0 1 0 -5.6 0M473.0 327.3a2.8 2.8 0 1 0 5.6 0a2.8 2.8 0 1 0 -5.6 0M473.0 353.1a2.8 2.8 0 1 0 5.6 0a2.8 2.8 0 1 0 -5.6 0M480.8 293.5a2.8 2.8 0 1 0 5.6 0a2.8 2.8 0 1 0 -5.6 0M480.8 298.0a2.8 2.8 0 1 0 5.6 0a2.8 2.8 0 1 0 -5.6 0M480.8 302.7a2.8 2.8 0 1 0 5.6 0a2.8 2.8 0 1 0 -5.6 0M480.8 319.3a2.8 2.8 0 1 0 5.6 0a2.8 2.8 0 1 0 -5.6 0M480.8 338.0a2.8 2.8 0 1 0 5.6 0a2.8 2.8 0 1 0 -5.6 0M480.8 341.4a2.8 2.8 0 1 0 5.6 0a2.8 2.8 0 1 0 -5.6 0M480.8 345.0a2.8 2.8 0 1 0 5.6 0a2.8 2.8 0 1 0 -5.6 0M488.6 299.6a2.8 2.8 0 1 0 5.6 0a2.8 2.8 0 1 0 -5.6 0M488.6 305.0a2.8 2.8 0 1 0 5.6 0a2.8 2.8 0 1 0 -5.6 0M488.6 319.6a2.8 2.8 0 1 0 5.6 0a2.8 2.8 0 1 0 -5.6 0M488.6 329.6a2.8 2.8 0 1 0 5.6 0a2.8 2.8 0 1 0 -5.6 0" fill="none" stroke="#000" stroke-width="1.6"/>
<path d="M100.0 78.0 L110.0 82.0 L119.5 85.5 L127.0 90.5 L134.7 94.8 L143.0 98.8 L151.0 100.9 L159.0 101.5 L167.0 101.3 L174.0 100.9 L182.0 101.5 L186.0 102.8 L190.5 104.9 L196.9 110.6 L205.4 118.1 L213.0 125.3 L220.8 132.7 L229.2 139.6 L236.9 144.2 L244.6 145.8 L251.0 146.0 L256.0 144.8 L260.0 142.8 L268.5 137.5 L277.7 131.8 L286.9 125.5 L296.2 118.8 L305.4 112.7 L314.6 107.5 L323.8 103.0 L329.2 100.2 L338.5 96.4 L347.7 93.1 L356.9 89.3 L366.2 85.4 L375.4 81.7 L384.6 78.5 L393.8 75.6 L400.4 74.6 L415.8 72.7 L431.0 71.0 L446.5 70.2 L467.0 69.2" fill="none" stroke="#000" stroke-width="2.2" stroke-linejoin="round" stroke-linecap="round"/>
<path d="M101.0 300.0 L112.3 300.4 L121.9 300.4 L128.0 300.9 L135.5 303.3 L143.8 307.7 L151.0 317.2 L159.4 328.2 L165.5 339.9 L168.4 347.2 L172.2 356.2 L176.8 365.5 L180.5 374.7 L184.2 383.6 L187.9 391.6 L192.5 400.0 L197.1 406.8 L202.0 411.3 L207.7 414.2 L218.0 415.6 L232.0 416.0 L249.0 416.2 L262.0 416.3 L270.0 416.9 L278.0 416.2 L284.5 413.1 L292.7 409.0 L302.5 402.5 L310.7 395.1 L318.8 388.6 L327.0 381.2 L335.2 372.6 L339.0 368.8 L343.3 364.6 L349.0 360.2 L357.0 355.6 L368.5 347.9 L380.0 342.3 L391.5 335.9 L404.0 329.1 L413.0 323.5 L420.9 319.4 L430.0 316.2 L437.7 314.1 L447.3 312.1 L457.0 311.5 L467.5 311.7" fill="none" stroke="#000" stroke-width="2.3" stroke-linejoin="round" stroke-linecap="round"/>
</svg>
<div class="yl" style="top:4.7px;right:441.7px">50000</div>
<div class="yl" style="top:55.2px;right:441.5px">10000</div>
<div class="yl" style="top:127.2px;right:441.2px">1000</div>
<div class="yl" style="top:199.2px;right:440.9px">100</div>
<div class="yl" style="top:280.2px;right:440.6px">500000</div>
<div class="yl" style="top:329.6px;right:440.3px">100000</div>
<div class="yl" style="top:400.2px;right:440.0px">10000</div>
<div class="yl" style="top:471.5px;right:439.6px">1000</div>
<div class="xl" style="left:85.2px;top:214.5px">0</div>
<div class="xl" style="left:163.1px;top:214.1px">10</div>
<div class="xl" style="left:240.9px;top:213.7px">20</div>
<div class="xl" style="left:318.8px;top:213.2px">30</div>
<div class="xl" style="left:396.6px;top:212.8px">40</div>
<div class="xl" style="left:475.6px;top:212.4px">50</div>
<div class="xl" style="left:87.2px;top:486.8px">0</div>
<div class="xl" style="left:165.0px;top:486.1px">10</div>
<div class="xl" style="left:243.0px;top:485.4px">20</div>
<div class="xl" style="left:320.6px;top:484.8px">30</div>
<div class="xl" style="left:398.6px;top:484.1px">40</div>
<div class="xl" style="left:477.0px;top:483.4px">50</div>
<div class="t" style="left:75.24px;top:516.4px;font-size:25.5px;transform:scaleX(0.7281)">Days</div>
<div class="t" style="left:131.14px;top:516.4px;font-size:25.5px;transform:scaleX(0.6278)">after</div>
<div class="t" style="left:193.52px;top:516.4px;font-size:25.5px;transform:scaleX(0.7381)">200</div>
<div class="t" style="left:239.21px;top:516.4px;font-size:25.5px;transform:scaleX(0.6930)">cGy</div>
<div class="t" style="left:285.66px;top:516.4px;font-size:25.5px;transform:scaleX(0.6446)">Total</div>
<div class="t" style="left:346.03px;top:516.4px;font-size:25.5px;transform:scaleX(0.7362)">Body</div>
<div class="t" style="left:401.78px;top:516.4px;font-size:25.5px;transform:scaleX(0.6748)">Irradiation</div>
<div class="t" style="left:2.3px;top:170.00px;font-size:24px;transform:rotate(-90deg) scaleX(0.6047)">Granulocytes</div>
<div class="t" style="left:2.3px;top:66.11px;font-size:24px;transform:rotate(-90deg) scaleX(1.0545)">/</div>
<div class="t" style="left:2.3px;top:51.55px;font-size:24px;transform:rotate(-90deg) scaleX(0.7512)">mm3</div>
<div class="t" style="left:8.8px;top:447.26px;font-size:25px;transform:rotate(-90deg) scaleX(0.6290)">Platelets</div>
<div class="t" style="left:8.8px;top:364.29px;font-size:25px;transform:rotate(-90deg) scaleX(1.1455)">/</div>
<div class="t" style="left:8.8px;top:348.51px;font-size:25px;transform:rotate(-90deg) scaleX(0.7143)">mm3</div>
</div></body></html>
